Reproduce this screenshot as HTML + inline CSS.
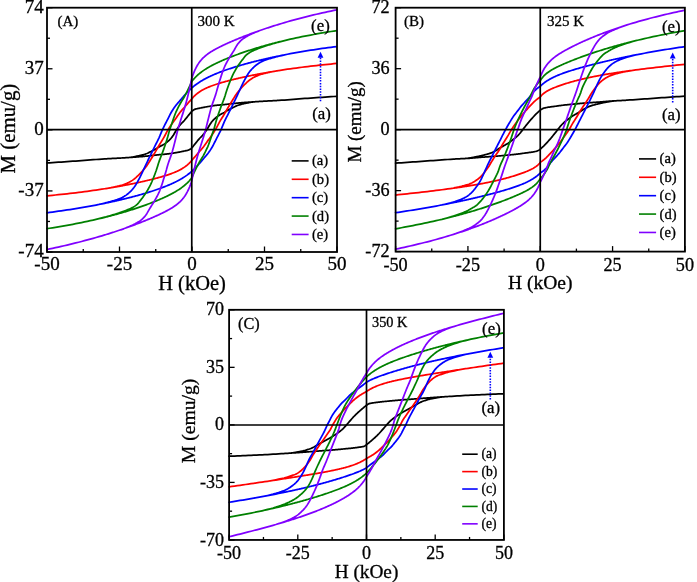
<!DOCTYPE html>
<html><head><meta charset="utf-8"><title>M-H hysteresis loops</title>
<style>
html,body{margin:0;padding:0;background:#fff;}
body{width:697px;height:582px;overflow:hidden;}
svg{display:block;will-change:transform;}
svg text{font-family:"Liberation Serif",serif;fill:#000;stroke:#000;stroke-width:0.3px;}
</style></head><body>
<svg width="697" height="582" viewBox="0 0 697 582">
<rect width="697" height="582" fill="#fff"/>
<g><path d="M336.75 96.31 L333.85 96.50 L330.95 96.69 L328.05 96.89 L325.15 97.09 L322.25 97.28 L319.35 97.48 L316.45 97.68 L313.55 97.88 L310.65 98.08 L307.75 98.29 L304.85 98.49 L301.95 98.71 L299.05 98.93 L296.15 99.15 L293.25 99.37 L290.35 99.59 L287.45 99.80 L284.55 100.01 L281.65 100.21 L278.75 100.40 L278.02 100.45 L277.30 100.49 L276.57 100.54 L275.85 100.58 L275.12 100.62 L274.40 100.66 L273.68 100.70 L272.95 100.74 L272.23 100.78 L271.50 100.82 L270.77 100.85 L270.05 100.89 L269.32 100.92 L268.60 100.96 L267.88 100.99 L267.15 101.03 L266.43 101.07 L265.70 101.10 L264.98 101.14 L264.25 101.18 L263.52 101.22 L262.80 101.26 L262.07 101.30 L261.35 101.34 L260.62 101.39 L259.90 101.43 L259.18 101.47 L258.45 101.52 L257.73 101.57 L257.00 101.61 L256.27 101.66 L255.55 101.71 L254.82 101.75 L254.10 101.80 L253.38 101.85 L252.65 101.90 L251.93 101.95 L251.20 102.00 L250.47 102.05 L249.75 102.10 L249.03 102.16 L248.30 102.21 L247.57 102.26 L246.85 102.32 L246.12 102.38 L245.40 102.43 L244.68 102.49 L243.95 102.55 L243.22 102.61 L242.50 102.67 L241.78 102.73 L241.05 102.79 L240.32 102.86 L239.60 102.92 L238.88 102.99 L238.15 103.06 L237.43 103.13 L236.70 103.20 L235.97 103.27 L235.25 103.34 L234.53 103.42 L233.80 103.49 L233.07 103.57 L232.35 103.65 L231.62 103.73 L230.90 103.81 L230.18 103.90 L229.45 103.99 L228.72 104.07 L228.00 104.16 L227.28 104.25 L226.55 104.33 L225.82 104.42 L225.10 104.50 L224.38 104.57 L223.65 104.65 L222.93 104.72 L222.20 104.78 L221.47 104.85 L220.75 104.91 L220.03 104.97 L219.30 105.03 L218.57 105.10 L217.85 105.17 L217.12 105.24 L216.40 105.32 L215.68 105.40 L214.95 105.49 L214.22 105.59 L213.50 105.69 L212.78 105.80 L212.05 105.91 L211.32 106.02 L210.60 106.14 L209.88 106.26 L209.15 106.38 L208.43 106.51 L207.70 106.63 L206.97 106.76 L206.25 106.88 L205.53 107.01 L204.80 107.14 L204.07 107.28 L203.35 107.41 L202.62 107.55 L201.90 107.70 L201.18 107.84 L200.45 107.99 L199.72 108.14 L199.00 108.29 L198.28 108.45 L197.55 108.60 L196.82 108.75 L196.10 108.93 L195.38 109.13 L194.65 109.40 L193.93 109.75 L193.20 110.17 L192.47 110.69 L191.75 111.33 L191.03 112.22 L190.30 113.12 L189.57 114.01 L188.85 114.91 L188.12 115.80 L187.40 116.70 L186.68 117.61 L185.95 118.51 L185.22 119.39 L184.50 120.24 L183.78 121.04 L183.05 121.79 L182.32 122.52 L181.60 123.26 L180.88 124.03 L180.15 124.86 L179.43 125.77 L178.70 126.74 L177.97 127.75 L177.25 128.80 L176.53 129.87 L175.80 131.01 L175.07 132.24 L174.35 133.49 L173.62 134.72 L172.90 135.87 L172.18 136.89 L171.45 137.78 L170.72 138.61 L170.00 139.38 L169.28 140.10 L168.55 140.77 L167.82 141.41 L167.10 142.02 L166.38 142.59 L165.65 143.13 L164.93 143.64 L164.20 144.13 L163.47 144.58 L162.75 145.01 L162.03 145.40 L161.30 145.77 L160.57 146.14 L159.85 146.51 L159.12 146.90 L158.40 147.32 L157.68 147.76 L156.95 148.22 L156.22 148.67 L155.50 149.12 L154.78 149.54 L154.05 149.94 L153.32 150.33 L152.60 150.70 L151.88 151.06 L151.15 151.42 L150.43 151.77 L149.70 152.13 L148.97 152.50 L148.25 152.86 L147.53 153.20 L146.80 153.52 L146.07 153.80 L145.35 154.06 L144.62 154.29 L143.90 154.51 L143.18 154.72 L142.45 154.92 L141.72 155.11 L141.00 155.29 L140.28 155.47 L139.55 155.64 L138.82 155.80 L138.10 155.95 L137.38 156.09 L136.65 156.23 L135.93 156.37 L135.20 156.51 L134.47 156.66 L133.75 156.79 L133.03 156.93 L132.30 157.05 L131.57 157.17 L130.85 157.28 L130.12 157.38 L129.40 157.47 L128.68 157.54 L127.95 157.59 L127.23 157.64 L126.50 157.69 L125.78 157.73 L125.05 157.78 L124.33 157.83 L123.60 157.87 L122.88 157.91 L122.15 157.96 L121.42 158.00 L120.70 158.04 L119.98 158.08 L119.25 158.12 L118.53 158.16 L117.80 158.20 L117.08 158.23 L116.35 158.27 L115.62 158.31 L114.90 158.34 L114.17 158.38 L113.45 158.41 L112.73 158.45 L112.00 158.48 L111.28 158.52 L110.55 158.56 L109.83 158.60 L109.10 158.64 L108.38 158.68 L107.65 158.72 L106.92 158.76 L106.20 158.81 L105.48 158.85 L104.75 158.90 L101.85 159.09 L98.95 159.29 L96.05 159.50 L93.15 159.71 L90.25 159.93 L87.35 160.15 L84.45 160.37 L81.55 160.59 L78.65 160.81 L75.75 161.01 L72.85 161.22 L69.95 161.42 L67.05 161.62 L64.15 161.82 L61.25 162.02 L58.35 162.21 L55.45 162.41 L52.55 162.61 L49.65 162.80 L47.00 162.99 L47.00 162.99 L49.65 162.80 L52.55 162.61 L55.45 162.41 L58.35 162.21 L61.25 162.02 L64.15 161.82 L67.05 161.62 L69.95 161.42 L72.85 161.22 L75.75 161.01 L78.65 160.81 L81.55 160.59 L84.45 160.37 L87.35 160.15 L90.25 159.93 L93.15 159.71 L96.05 159.50 L98.95 159.29 L101.85 159.09 L104.75 158.90 L105.48 158.85 L106.20 158.81 L106.92 158.76 L107.65 158.72 L108.38 158.68 L109.10 158.64 L109.83 158.60 L110.55 158.56 L111.28 158.52 L112.00 158.48 L112.73 158.45 L113.45 158.41 L114.17 158.38 L114.90 158.34 L115.62 158.31 L116.35 158.27 L117.08 158.23 L117.80 158.20 L118.53 158.16 L119.25 158.12 L119.98 158.08 L120.70 158.04 L121.42 158.00 L122.15 157.96 L122.88 157.91 L123.60 157.87 L124.33 157.83 L125.05 157.78 L125.78 157.73 L126.50 157.69 L127.23 157.64 L127.95 157.59 L128.68 157.55 L129.40 157.50 L130.12 157.45 L130.85 157.40 L131.57 157.35 L132.30 157.30 L133.03 157.25 L133.75 157.20 L134.47 157.14 L135.20 157.09 L135.93 157.04 L136.65 156.98 L137.38 156.92 L138.10 156.87 L138.82 156.81 L139.55 156.75 L140.28 156.69 L141.00 156.63 L141.72 156.57 L142.45 156.51 L143.18 156.44 L143.90 156.38 L144.62 156.31 L145.35 156.24 L146.07 156.17 L146.80 156.10 L147.53 156.03 L148.25 155.96 L148.97 155.88 L149.70 155.81 L150.43 155.73 L151.15 155.65 L151.88 155.57 L152.60 155.49 L153.32 155.40 L154.05 155.31 L154.78 155.23 L155.50 155.14 L156.22 155.05 L156.95 154.97 L157.68 154.88 L158.40 154.80 L159.12 154.73 L159.85 154.65 L160.57 154.58 L161.30 154.52 L162.03 154.45 L162.75 154.39 L163.47 154.33 L164.20 154.27 L164.93 154.20 L165.65 154.13 L166.38 154.06 L167.10 153.98 L167.82 153.90 L168.55 153.81 L169.28 153.71 L170.00 153.61 L170.72 153.50 L171.45 153.39 L172.18 153.28 L172.90 153.16 L173.62 153.04 L174.35 152.92 L175.07 152.79 L175.80 152.67 L176.53 152.54 L177.25 152.42 L177.97 152.29 L178.70 152.16 L179.43 152.02 L180.15 151.89 L180.88 151.75 L181.60 151.60 L182.32 151.46 L183.05 151.31 L183.78 151.16 L184.50 151.01 L185.22 150.85 L185.95 150.70 L186.68 150.55 L187.40 150.37 L188.12 150.17 L188.85 149.90 L189.57 149.55 L190.30 149.13 L191.03 148.61 L191.75 147.97 L192.47 147.08 L193.20 146.18 L193.93 145.29 L194.65 144.39 L195.38 143.50 L196.10 142.60 L196.82 141.69 L197.55 140.79 L198.28 139.91 L199.00 139.06 L199.72 138.26 L200.45 137.51 L201.18 136.78 L201.90 136.04 L202.62 135.27 L203.35 134.44 L204.07 133.53 L204.80 132.56 L205.53 131.55 L206.25 130.50 L206.97 129.43 L207.70 128.29 L208.43 127.06 L209.15 125.81 L209.88 124.58 L210.60 123.43 L211.32 122.41 L212.05 121.52 L212.78 120.69 L213.50 119.92 L214.22 119.20 L214.95 118.53 L215.68 117.89 L216.40 117.28 L217.12 116.71 L217.85 116.17 L218.57 115.66 L219.30 115.17 L220.03 114.72 L220.75 114.29 L221.47 113.90 L222.20 113.53 L222.93 113.16 L223.65 112.79 L224.38 112.40 L225.10 111.98 L225.82 111.54 L226.55 111.08 L227.28 110.63 L228.00 110.18 L228.72 109.76 L229.45 109.36 L230.18 108.97 L230.90 108.60 L231.62 108.24 L232.35 107.88 L233.07 107.53 L233.80 107.17 L234.53 106.80 L235.25 106.44 L235.97 106.10 L236.70 105.78 L237.43 105.50 L238.15 105.24 L238.88 105.01 L239.60 104.79 L240.32 104.58 L241.05 104.38 L241.78 104.19 L242.50 104.01 L243.22 103.83 L243.95 103.66 L244.68 103.50 L245.40 103.35 L246.12 103.21 L246.85 103.07 L247.57 102.93 L248.30 102.79 L249.03 102.64 L249.75 102.51 L250.47 102.37 L251.20 102.25 L251.93 102.13 L252.65 102.02 L253.38 101.92 L254.10 101.83 L254.82 101.76 L255.55 101.71 L256.27 101.66 L257.00 101.61 L257.73 101.57 L258.45 101.52 L259.18 101.47 L259.90 101.43 L260.62 101.39 L261.35 101.34 L262.07 101.30 L262.80 101.26 L263.52 101.22 L264.25 101.18 L264.98 101.14 L265.70 101.10 L266.43 101.07 L267.15 101.03 L267.88 100.99 L268.60 100.96 L269.32 100.92 L270.05 100.89 L270.77 100.85 L271.50 100.82 L272.23 100.78 L272.95 100.74 L273.68 100.70 L274.40 100.66 L275.12 100.62 L275.85 100.58 L276.57 100.54 L277.30 100.49 L278.02 100.45 L278.75 100.40 L281.65 100.21 L284.55 100.01 L287.45 99.80 L290.35 99.59 L293.25 99.37 L296.15 99.15 L299.05 98.93 L301.95 98.71 L304.85 98.49 L307.75 98.29 L310.65 98.08 L313.55 97.88 L316.45 97.68 L319.35 97.48 L322.25 97.28 L325.15 97.09 L328.05 96.89 L330.95 96.69 L333.85 96.50 L336.75 96.31" fill="none" stroke="#000000" stroke-width="1.75" stroke-linejoin="round"/>
<path d="M336.75 63.46 L333.85 63.73 L330.95 64.01 L328.05 64.30 L325.15 64.59 L322.25 64.89 L319.35 65.20 L316.45 65.52 L313.55 65.85 L310.65 66.19 L307.75 66.53 L304.85 66.89 L301.95 67.25 L299.05 67.63 L296.15 68.01 L293.25 68.41 L290.35 68.82 L287.45 69.23 L284.55 69.66 L281.65 70.10 L278.75 70.55 L278.02 70.67 L277.30 70.78 L276.57 70.90 L275.85 71.02 L275.12 71.14 L274.40 71.25 L273.68 71.37 L272.95 71.49 L272.23 71.62 L271.50 71.74 L270.77 71.86 L270.05 71.98 L269.32 72.11 L268.60 72.23 L267.88 72.36 L267.15 72.49 L266.43 72.61 L265.70 72.74 L264.98 72.87 L264.25 73.00 L263.52 73.14 L262.80 73.27 L262.07 73.40 L261.35 73.53 L260.62 73.67 L259.90 73.81 L259.18 73.94 L258.45 74.08 L257.73 74.22 L257.00 74.36 L256.27 74.50 L255.55 74.64 L254.82 74.78 L254.10 74.93 L253.38 75.07 L252.65 75.22 L251.93 75.36 L251.20 75.51 L250.47 75.66 L249.75 75.81 L249.03 75.96 L248.30 76.11 L247.57 76.26 L246.85 76.42 L246.12 76.57 L245.40 76.73 L244.68 76.89 L243.95 77.05 L243.22 77.21 L242.50 77.37 L241.78 77.53 L241.05 77.69 L240.32 77.86 L239.60 78.02 L238.88 78.19 L238.15 78.36 L237.43 78.53 L236.70 78.70 L235.97 78.87 L235.25 79.04 L234.53 79.22 L233.80 79.39 L233.07 79.57 L232.35 79.75 L231.62 79.93 L230.90 80.11 L230.18 80.30 L229.45 80.49 L228.72 80.67 L228.00 80.86 L227.28 81.06 L226.55 81.25 L225.82 81.44 L225.10 81.64 L224.38 81.84 L223.65 82.05 L222.93 82.25 L222.20 82.46 L221.47 82.67 L220.75 82.88 L220.03 83.10 L219.30 83.32 L218.57 83.54 L217.85 83.77 L217.12 84.00 L216.40 84.23 L215.68 84.47 L214.95 84.71 L214.22 84.96 L213.50 85.21 L212.78 85.47 L212.05 85.73 L211.32 86.00 L210.60 86.28 L209.88 86.56 L209.15 86.85 L208.43 87.15 L207.70 87.46 L206.97 87.78 L206.25 88.11 L205.53 88.45 L204.80 88.80 L204.07 89.16 L203.35 89.54 L202.62 89.94 L201.90 90.35 L201.18 90.78 L200.45 91.23 L199.72 91.70 L199.00 92.19 L198.28 92.71 L197.55 93.25 L196.82 93.82 L196.10 94.43 L195.38 95.07 L194.65 95.75 L193.93 96.47 L193.20 97.23 L192.47 98.05 L191.75 98.91 L191.03 99.73 L190.30 100.55 L189.57 101.37 L188.85 102.19 L188.12 103.02 L187.40 103.85 L186.68 104.69 L185.95 105.52 L185.22 106.36 L184.50 107.20 L183.78 108.03 L183.05 108.86 L182.32 109.69 L181.60 110.54 L180.88 111.41 L180.15 112.32 L179.43 113.26 L178.70 114.26 L177.97 115.30 L177.25 116.35 L176.53 117.40 L175.80 118.43 L175.07 119.42 L174.35 120.41 L173.62 121.40 L172.90 122.39 L172.18 123.41 L171.45 124.46 L170.72 125.54 L170.00 126.64 L169.28 127.77 L168.55 128.93 L167.82 130.14 L167.10 131.42 L166.38 132.76 L165.65 134.13 L164.93 135.50 L164.20 136.85 L163.47 138.15 L162.75 139.38 L162.03 140.57 L161.30 141.74 L160.57 142.89 L159.85 144.06 L159.12 145.25 L158.40 146.49 L157.68 147.75 L156.95 149.03 L156.22 150.32 L155.50 151.59 L154.78 152.84 L154.05 154.07 L153.32 155.29 L152.60 156.49 L151.88 157.69 L151.15 158.86 L150.43 160.02 L149.70 161.18 L148.97 162.35 L148.25 163.50 L147.53 164.61 L146.80 165.67 L146.07 166.65 L145.35 167.58 L144.62 168.48 L143.90 169.35 L143.18 170.19 L142.45 171.01 L141.72 171.81 L141.00 172.59 L140.28 173.35 L139.55 174.09 L138.82 174.81 L138.10 175.53 L137.38 176.23 L136.65 176.92 L135.93 177.58 L135.20 178.21 L134.47 178.80 L133.75 179.35 L133.03 179.88 L132.30 180.38 L131.57 180.85 L130.85 181.29 L130.12 181.70 L129.40 182.09 L128.68 182.45 L127.95 182.80 L127.23 183.13 L126.50 183.44 L125.78 183.73 L125.05 184.01 L124.33 184.28 L123.60 184.53 L122.88 184.78 L122.15 185.01 L121.42 185.22 L120.70 185.43 L119.98 185.62 L119.25 185.81 L118.53 186.00 L117.80 186.17 L117.08 186.35 L116.35 186.52 L115.62 186.68 L114.90 186.84 L114.17 187.00 L113.45 187.15 L112.73 187.30 L112.00 187.45 L111.28 187.60 L110.55 187.75 L109.83 187.89 L109.10 188.03 L108.38 188.16 L107.65 188.28 L106.92 188.40 L106.20 188.52 L105.48 188.63 L104.75 188.75 L101.85 189.20 L98.95 189.64 L96.05 190.07 L93.15 190.48 L90.25 190.89 L87.35 191.29 L84.45 191.67 L81.55 192.05 L78.65 192.41 L75.75 192.77 L72.85 193.11 L69.95 193.45 L67.05 193.78 L64.15 194.10 L61.25 194.41 L58.35 194.71 L55.45 195.00 L52.55 195.29 L49.65 195.57 L47.00 195.84 L47.00 195.84 L49.65 195.57 L52.55 195.29 L55.45 195.00 L58.35 194.71 L61.25 194.41 L64.15 194.10 L67.05 193.78 L69.95 193.45 L72.85 193.11 L75.75 192.77 L78.65 192.41 L81.55 192.05 L84.45 191.67 L87.35 191.29 L90.25 190.89 L93.15 190.48 L96.05 190.07 L98.95 189.64 L101.85 189.20 L104.75 188.75 L105.48 188.63 L106.20 188.52 L106.92 188.40 L107.65 188.28 L108.38 188.16 L109.10 188.05 L109.83 187.93 L110.55 187.81 L111.28 187.68 L112.00 187.56 L112.73 187.44 L113.45 187.32 L114.17 187.19 L114.90 187.07 L115.62 186.94 L116.35 186.81 L117.08 186.69 L117.80 186.56 L118.53 186.43 L119.25 186.30 L119.98 186.16 L120.70 186.03 L121.42 185.90 L122.15 185.77 L122.88 185.63 L123.60 185.49 L124.33 185.36 L125.05 185.22 L125.78 185.08 L126.50 184.94 L127.23 184.80 L127.95 184.66 L128.68 184.52 L129.40 184.37 L130.12 184.23 L130.85 184.08 L131.57 183.94 L132.30 183.79 L133.03 183.64 L133.75 183.49 L134.47 183.34 L135.20 183.19 L135.93 183.04 L136.65 182.88 L137.38 182.73 L138.10 182.57 L138.82 182.41 L139.55 182.25 L140.28 182.09 L141.00 181.93 L141.72 181.77 L142.45 181.61 L143.18 181.44 L143.90 181.28 L144.62 181.11 L145.35 180.94 L146.07 180.77 L146.80 180.60 L147.53 180.43 L148.25 180.26 L148.97 180.08 L149.70 179.91 L150.43 179.73 L151.15 179.55 L151.88 179.37 L152.60 179.19 L153.32 179.00 L154.05 178.81 L154.78 178.63 L155.50 178.44 L156.22 178.24 L156.95 178.05 L157.68 177.86 L158.40 177.66 L159.12 177.46 L159.85 177.25 L160.57 177.05 L161.30 176.84 L162.03 176.63 L162.75 176.42 L163.47 176.20 L164.20 175.98 L164.93 175.76 L165.65 175.53 L166.38 175.30 L167.10 175.07 L167.82 174.83 L168.55 174.59 L169.28 174.34 L170.00 174.09 L170.72 173.83 L171.45 173.57 L172.18 173.30 L172.90 173.02 L173.62 172.74 L174.35 172.45 L175.07 172.15 L175.80 171.84 L176.53 171.52 L177.25 171.19 L177.97 170.85 L178.70 170.50 L179.43 170.14 L180.15 169.76 L180.88 169.36 L181.60 168.95 L182.32 168.52 L183.05 168.07 L183.78 167.60 L184.50 167.11 L185.22 166.59 L185.95 166.05 L186.68 165.48 L187.40 164.87 L188.12 164.23 L188.85 163.55 L189.57 162.83 L190.30 162.07 L191.03 161.25 L191.75 160.39 L192.47 159.57 L193.20 158.75 L193.93 157.93 L194.65 157.11 L195.38 156.28 L196.10 155.45 L196.82 154.61 L197.55 153.78 L198.28 152.94 L199.00 152.10 L199.72 151.27 L200.45 150.44 L201.18 149.61 L201.90 148.76 L202.62 147.89 L203.35 146.98 L204.07 146.04 L204.80 145.04 L205.53 144.00 L206.25 142.95 L206.97 141.90 L207.70 140.87 L208.43 139.88 L209.15 138.89 L209.88 137.90 L210.60 136.91 L211.32 135.89 L212.05 134.84 L212.78 133.76 L213.50 132.66 L214.22 131.53 L214.95 130.37 L215.68 129.16 L216.40 127.88 L217.12 126.54 L217.85 125.17 L218.57 123.80 L219.30 122.45 L220.03 121.15 L220.75 119.92 L221.47 118.73 L222.20 117.56 L222.93 116.41 L223.65 115.24 L224.38 114.05 L225.10 112.81 L225.82 111.55 L226.55 110.27 L227.28 108.98 L228.00 107.71 L228.72 106.46 L229.45 105.23 L230.18 104.01 L230.90 102.81 L231.62 101.61 L232.35 100.44 L233.07 99.28 L233.80 98.12 L234.53 96.95 L235.25 95.80 L235.97 94.69 L236.70 93.63 L237.43 92.65 L238.15 91.72 L238.88 90.82 L239.60 89.95 L240.32 89.11 L241.05 88.29 L241.78 87.49 L242.50 86.71 L243.22 85.95 L243.95 85.21 L244.68 84.49 L245.40 83.77 L246.12 83.07 L246.85 82.38 L247.57 81.72 L248.30 81.09 L249.03 80.50 L249.75 79.95 L250.47 79.42 L251.20 78.92 L251.93 78.45 L252.65 78.01 L253.38 77.60 L254.10 77.21 L254.82 76.85 L255.55 76.50 L256.27 76.17 L257.00 75.86 L257.73 75.57 L258.45 75.29 L259.18 75.02 L259.90 74.77 L260.62 74.52 L261.35 74.29 L262.07 74.08 L262.80 73.87 L263.52 73.68 L264.25 73.49 L264.98 73.30 L265.70 73.13 L266.43 72.95 L267.15 72.78 L267.88 72.62 L268.60 72.46 L269.32 72.30 L270.05 72.15 L270.77 72.00 L271.50 71.85 L272.23 71.70 L272.95 71.55 L273.68 71.41 L274.40 71.27 L275.12 71.14 L275.85 71.02 L276.57 70.90 L277.30 70.78 L278.02 70.67 L278.75 70.55 L281.65 70.10 L284.55 69.66 L287.45 69.23 L290.35 68.82 L293.25 68.41 L296.15 68.01 L299.05 67.63 L301.95 67.25 L304.85 66.89 L307.75 66.53 L310.65 66.19 L313.55 65.85 L316.45 65.52 L319.35 65.20 L322.25 64.89 L325.15 64.59 L328.05 64.30 L330.95 64.01 L333.85 63.73 L336.75 63.46" fill="none" stroke="#ff0000" stroke-width="1.75" stroke-linejoin="round"/>
<path d="M336.75 46.53 L333.85 46.91 L330.95 47.29 L328.05 47.68 L325.15 48.08 L322.25 48.49 L319.35 48.91 L316.45 49.34 L313.55 49.78 L310.65 50.23 L307.75 50.69 L304.85 51.16 L301.95 51.65 L299.05 52.15 L296.15 52.66 L293.25 53.18 L290.35 53.71 L287.45 54.26 L284.55 54.82 L281.65 55.40 L278.75 55.99 L278.02 56.14 L277.30 56.29 L276.57 56.44 L275.85 56.59 L275.12 56.75 L274.40 56.90 L273.68 57.06 L272.95 57.21 L272.23 57.37 L271.50 57.53 L270.77 57.69 L270.05 57.85 L269.32 58.01 L268.60 58.17 L267.88 58.33 L267.15 58.50 L266.43 58.66 L265.70 58.83 L264.98 59.00 L264.25 59.17 L263.52 59.34 L262.80 59.51 L262.07 59.68 L261.35 59.85 L260.62 60.03 L259.90 60.20 L259.18 60.38 L258.45 60.55 L257.73 60.73 L257.00 60.91 L256.27 61.09 L255.55 61.28 L254.82 61.46 L254.10 61.64 L253.38 61.83 L252.65 62.02 L251.93 62.20 L251.20 62.39 L250.47 62.59 L249.75 62.78 L249.03 62.97 L248.30 63.17 L247.57 63.36 L246.85 63.56 L246.12 63.76 L245.40 63.96 L244.68 64.16 L243.95 64.36 L243.22 64.57 L242.50 64.78 L241.78 64.98 L241.05 65.19 L240.32 65.40 L239.60 65.62 L238.88 65.83 L238.15 66.05 L237.43 66.27 L236.70 66.49 L235.97 66.71 L235.25 66.93 L234.53 67.16 L233.80 67.38 L233.07 67.61 L232.35 67.84 L231.62 68.08 L230.90 68.31 L230.18 68.55 L229.45 68.79 L228.72 69.03 L228.00 69.27 L227.28 69.52 L226.55 69.77 L225.82 70.02 L225.10 70.28 L224.38 70.53 L223.65 70.79 L222.93 71.06 L222.20 71.32 L221.47 71.59 L220.75 71.86 L220.03 72.14 L219.30 72.42 L218.57 72.70 L217.85 72.99 L217.12 73.28 L216.40 73.57 L215.68 73.87 L214.95 74.18 L214.22 74.48 L213.50 74.79 L212.78 75.11 L212.05 75.43 L211.32 75.76 L210.60 76.09 L209.88 76.43 L209.15 76.78 L208.43 77.13 L207.70 77.49 L206.97 77.85 L206.25 78.23 L205.53 78.61 L204.80 78.99 L204.07 79.39 L203.35 79.80 L202.62 80.21 L201.90 80.64 L201.18 81.07 L200.45 81.52 L199.72 81.97 L199.00 82.44 L198.28 82.92 L197.55 83.42 L196.82 83.92 L196.10 84.45 L195.38 84.98 L194.65 85.54 L193.93 86.11 L193.20 86.70 L192.47 87.31 L191.75 87.94 L191.03 88.61 L190.30 89.31 L189.57 90.01 L188.85 90.74 L188.12 91.48 L187.40 92.23 L186.68 92.99 L185.95 93.76 L185.22 94.54 L184.50 95.34 L183.78 96.14 L183.05 96.96 L182.32 97.82 L181.60 98.69 L180.88 99.57 L180.15 100.43 L179.43 101.27 L178.70 102.10 L177.97 102.93 L177.25 103.77 L176.53 104.64 L175.80 105.55 L175.07 106.51 L174.35 107.51 L173.62 108.56 L172.90 109.66 L172.18 110.80 L171.45 111.99 L170.72 113.26 L170.00 114.63 L169.28 116.07 L168.55 117.55 L167.82 119.03 L167.10 120.47 L166.38 121.87 L165.65 123.27 L164.93 124.66 L164.20 126.08 L163.47 127.53 L162.75 129.03 L162.03 130.62 L161.30 132.34 L160.57 134.12 L159.85 135.90 L159.12 137.58 L158.40 139.14 L157.68 140.63 L156.95 142.08 L156.22 143.50 L155.50 144.92 L154.78 146.36 L154.05 147.83 L153.32 149.30 L152.60 150.78 L151.88 152.26 L151.15 153.74 L150.43 155.24 L149.70 156.73 L148.97 158.24 L148.25 159.75 L147.53 161.26 L146.80 162.78 L146.07 164.29 L145.35 165.82 L144.62 167.37 L143.90 168.93 L143.18 170.50 L142.45 172.07 L141.72 173.61 L141.00 175.13 L140.28 176.62 L139.55 178.06 L138.82 179.44 L138.10 180.76 L137.38 182.06 L136.65 183.33 L135.93 184.55 L135.20 185.71 L134.47 186.77 L133.75 187.74 L133.03 188.65 L132.30 189.49 L131.57 190.29 L130.85 191.05 L130.12 191.76 L129.40 192.43 L128.68 193.09 L127.95 193.71 L127.23 194.31 L126.50 194.86 L125.78 195.37 L125.05 195.84 L124.33 196.29 L123.60 196.72 L122.88 197.13 L122.15 197.51 L121.42 197.86 L120.70 198.18 L119.98 198.49 L119.25 198.79 L118.53 199.07 L117.80 199.34 L117.08 199.60 L116.35 199.84 L115.62 200.07 L114.90 200.30 L114.17 200.52 L113.45 200.73 L112.73 200.94 L112.00 201.15 L111.28 201.36 L110.55 201.56 L109.83 201.76 L109.10 201.96 L108.38 202.15 L107.65 202.34 L106.92 202.53 L106.20 202.71 L105.48 202.90 L104.75 203.08 L101.85 203.77 L98.95 204.44 L96.05 205.04 L93.15 205.59 L90.25 206.12 L87.35 206.64 L84.45 207.15 L81.55 207.65 L78.65 208.14 L75.75 208.61 L72.85 209.07 L69.95 209.52 L67.05 209.96 L64.15 210.39 L61.25 210.81 L58.35 211.22 L55.45 211.62 L52.55 212.01 L49.65 212.39 L47.00 212.77 L47.00 212.77 L49.65 212.39 L52.55 212.01 L55.45 211.62 L58.35 211.22 L61.25 210.81 L64.15 210.39 L67.05 209.96 L69.95 209.52 L72.85 209.07 L75.75 208.61 L78.65 208.14 L81.55 207.65 L84.45 207.15 L87.35 206.64 L90.25 206.12 L93.15 205.59 L96.05 205.04 L98.95 204.48 L101.85 203.90 L104.75 203.31 L105.48 203.16 L106.20 203.01 L106.92 202.86 L107.65 202.71 L108.38 202.55 L109.10 202.40 L109.83 202.24 L110.55 202.09 L111.28 201.93 L112.00 201.77 L112.73 201.61 L113.45 201.45 L114.17 201.29 L114.90 201.13 L115.62 200.97 L116.35 200.80 L117.08 200.64 L117.80 200.47 L118.53 200.30 L119.25 200.13 L119.98 199.96 L120.70 199.79 L121.42 199.62 L122.15 199.45 L122.88 199.27 L123.60 199.10 L124.33 198.92 L125.05 198.75 L125.78 198.57 L126.50 198.39 L127.23 198.21 L127.95 198.02 L128.68 197.84 L129.40 197.66 L130.12 197.47 L130.85 197.28 L131.57 197.10 L132.30 196.91 L133.03 196.71 L133.75 196.52 L134.47 196.33 L135.20 196.13 L135.93 195.94 L136.65 195.74 L137.38 195.54 L138.10 195.34 L138.82 195.14 L139.55 194.94 L140.28 194.73 L141.00 194.52 L141.72 194.32 L142.45 194.11 L143.18 193.90 L143.90 193.68 L144.62 193.47 L145.35 193.25 L146.07 193.03 L146.80 192.81 L147.53 192.59 L148.25 192.37 L148.97 192.14 L149.70 191.92 L150.43 191.69 L151.15 191.46 L151.88 191.22 L152.60 190.99 L153.32 190.75 L154.05 190.51 L154.78 190.27 L155.50 190.03 L156.22 189.78 L156.95 189.53 L157.68 189.28 L158.40 189.02 L159.12 188.77 L159.85 188.51 L160.57 188.24 L161.30 187.98 L162.03 187.71 L162.75 187.44 L163.47 187.16 L164.20 186.88 L164.93 186.60 L165.65 186.31 L166.38 186.02 L167.10 185.73 L167.82 185.43 L168.55 185.12 L169.28 184.82 L170.00 184.51 L170.72 184.19 L171.45 183.87 L172.18 183.54 L172.90 183.21 L173.62 182.87 L174.35 182.52 L175.07 182.17 L175.80 181.81 L176.53 181.45 L177.25 181.07 L177.97 180.69 L178.70 180.31 L179.43 179.91 L180.15 179.50 L180.88 179.09 L181.60 178.66 L182.32 178.23 L183.05 177.78 L183.78 177.33 L184.50 176.86 L185.22 176.38 L185.95 175.88 L186.68 175.38 L187.40 174.85 L188.12 174.32 L188.85 173.76 L189.57 173.19 L190.30 172.60 L191.03 171.99 L191.75 171.36 L192.47 170.69 L193.20 169.99 L193.93 169.29 L194.65 168.56 L195.38 167.82 L196.10 167.07 L196.82 166.31 L197.55 165.54 L198.28 164.76 L199.00 163.96 L199.72 163.16 L200.45 162.34 L201.18 161.48 L201.90 160.61 L202.62 159.73 L203.35 158.87 L204.07 158.03 L204.80 157.20 L205.53 156.37 L206.25 155.53 L206.97 154.66 L207.70 153.75 L208.43 152.79 L209.15 151.79 L209.88 150.74 L210.60 149.64 L211.32 148.50 L212.05 147.31 L212.78 146.04 L213.50 144.67 L214.22 143.23 L214.95 141.75 L215.68 140.27 L216.40 138.83 L217.12 137.43 L217.85 136.03 L218.57 134.64 L219.30 133.22 L220.03 131.77 L220.75 130.27 L221.47 128.68 L222.20 126.96 L222.93 125.18 L223.65 123.40 L224.38 121.72 L225.10 120.16 L225.82 118.67 L226.55 117.22 L227.28 115.80 L228.00 114.38 L228.72 112.94 L229.45 111.47 L230.18 110.00 L230.90 108.52 L231.62 107.04 L232.35 105.56 L233.07 104.06 L233.80 102.57 L234.53 101.06 L235.25 99.55 L235.97 98.04 L236.70 96.52 L237.43 95.01 L238.15 93.48 L238.88 91.93 L239.60 90.37 L240.32 88.80 L241.05 87.23 L241.78 85.69 L242.50 84.17 L243.22 82.68 L243.95 81.24 L244.68 79.86 L245.40 78.54 L246.12 77.24 L246.85 75.97 L247.57 74.75 L248.30 73.59 L249.03 72.53 L249.75 71.56 L250.47 70.65 L251.20 69.81 L251.93 69.01 L252.65 68.25 L253.38 67.54 L254.10 66.87 L254.82 66.21 L255.55 65.59 L256.27 64.99 L257.00 64.44 L257.73 63.93 L258.45 63.46 L259.18 63.01 L259.90 62.58 L260.62 62.17 L261.35 61.79 L262.07 61.44 L262.80 61.12 L263.52 60.81 L264.25 60.51 L264.98 60.23 L265.70 59.96 L266.43 59.70 L267.15 59.46 L267.88 59.23 L268.60 59.00 L269.32 58.78 L270.05 58.57 L270.77 58.36 L271.50 58.15 L272.23 57.94 L272.95 57.74 L273.68 57.54 L274.40 57.34 L275.12 57.15 L275.85 56.96 L276.57 56.77 L277.30 56.59 L278.02 56.40 L278.75 56.22 L281.65 55.53 L284.55 54.86 L287.45 54.26 L290.35 53.71 L293.25 53.18 L296.15 52.66 L299.05 52.15 L301.95 51.65 L304.85 51.16 L307.75 50.69 L310.65 50.23 L313.55 49.78 L316.45 49.34 L319.35 48.91 L322.25 48.49 L325.15 48.08 L328.05 47.68 L330.95 47.29 L333.85 46.91 L336.75 46.53" fill="none" stroke="#0000ff" stroke-width="1.75" stroke-linejoin="round"/>
<path d="M336.75 30.60 L333.85 31.05 L330.95 31.51 L328.05 31.97 L325.15 32.45 L322.25 32.94 L319.35 33.45 L316.45 33.96 L313.55 34.49 L310.65 35.03 L307.75 35.58 L304.85 36.15 L301.95 36.73 L299.05 37.33 L296.15 37.94 L293.25 38.57 L290.35 39.21 L287.45 39.87 L284.55 40.55 L281.65 41.24 L278.75 41.96 L278.02 42.14 L277.30 42.32 L276.57 42.50 L275.85 42.69 L275.12 42.88 L274.40 43.06 L273.68 43.25 L272.95 43.44 L272.23 43.63 L271.50 43.82 L270.77 44.02 L270.05 44.21 L269.32 44.41 L268.60 44.60 L267.88 44.80 L267.15 45.00 L266.43 45.20 L265.70 45.41 L264.98 45.61 L264.25 45.81 L263.52 46.02 L262.80 46.23 L262.07 46.44 L261.35 46.65 L260.62 46.86 L259.90 47.07 L259.18 47.29 L258.45 47.51 L257.73 47.72 L257.00 47.94 L256.27 48.16 L255.55 48.38 L254.82 48.61 L254.10 48.83 L253.38 49.06 L252.65 49.29 L251.93 49.52 L251.20 49.75 L250.47 49.98 L249.75 50.22 L249.03 50.45 L248.30 50.69 L247.57 50.93 L246.85 51.17 L246.12 51.41 L245.40 51.66 L244.68 51.90 L243.95 52.15 L243.22 52.40 L242.50 52.65 L241.78 52.91 L241.05 53.16 L240.32 53.42 L239.60 53.68 L238.88 53.94 L238.15 54.20 L237.43 54.46 L236.70 54.73 L235.97 55.00 L235.25 55.27 L234.53 55.54 L233.80 55.82 L233.07 56.09 L232.35 56.37 L231.62 56.65 L230.90 56.94 L230.18 57.22 L229.45 57.51 L228.72 57.80 L228.00 58.10 L227.28 58.39 L226.55 58.69 L225.82 58.99 L225.10 59.30 L224.38 59.60 L223.65 59.91 L222.93 60.23 L222.20 60.54 L221.47 60.86 L220.75 61.19 L220.03 61.51 L219.30 61.84 L218.57 62.18 L217.85 62.52 L217.12 62.86 L216.40 63.21 L215.68 63.56 L214.95 63.92 L214.22 64.28 L213.50 64.65 L212.78 65.02 L212.05 65.40 L211.32 65.79 L210.60 66.18 L209.88 66.58 L209.15 66.99 L208.43 67.41 L207.70 67.83 L206.97 68.27 L206.25 68.71 L205.53 69.17 L204.80 69.63 L204.07 70.11 L203.35 70.61 L202.62 71.11 L201.90 71.64 L201.18 72.18 L200.45 72.73 L199.72 73.31 L199.00 73.91 L198.28 74.52 L197.55 75.17 L196.82 75.84 L196.10 76.53 L195.38 77.26 L194.65 78.02 L193.93 78.81 L193.20 79.65 L192.47 80.52 L191.75 81.44 L191.03 83.11 L190.30 84.74 L189.57 86.33 L188.85 87.88 L188.12 89.40 L187.40 90.89 L186.68 92.33 L185.95 93.75 L185.22 95.13 L184.50 96.47 L183.78 97.75 L183.05 98.95 L182.32 100.11 L181.60 101.27 L180.88 102.47 L180.15 103.73 L179.43 105.06 L178.70 106.42 L177.97 107.83 L177.25 109.31 L176.53 110.86 L175.80 112.48 L175.07 114.26 L174.35 116.22 L173.62 118.31 L172.90 120.45 L172.18 122.60 L171.45 124.70 L170.72 126.70 L170.00 128.76 L169.28 131.13 L168.55 133.88 L167.82 136.58 L167.10 138.99 L166.38 141.30 L165.65 143.53 L164.93 145.69 L164.20 147.80 L163.47 149.87 L162.75 151.89 L162.03 153.80 L161.30 155.66 L160.57 157.52 L159.85 159.43 L159.12 161.42 L158.40 163.59 L157.68 165.94 L156.95 168.30 L156.22 170.51 L155.50 172.52 L154.78 174.48 L154.05 176.40 L153.32 178.25 L152.60 180.04 L151.88 181.75 L151.15 183.38 L150.43 184.91 L149.70 186.33 L148.97 187.69 L148.25 188.99 L147.53 190.24 L146.80 191.44 L146.07 192.60 L145.35 193.71 L144.62 194.79 L143.90 195.85 L143.18 196.87 L142.45 197.83 L141.72 198.74 L141.00 199.65 L140.28 200.61 L139.55 201.59 L138.82 202.53 L138.10 203.41 L137.38 204.18 L136.65 204.80 L135.93 205.36 L135.20 205.89 L134.47 206.37 L133.75 206.82 L133.03 207.24 L132.30 207.63 L131.57 208.00 L130.85 208.35 L130.12 208.68 L129.40 209.00 L128.68 209.32 L127.95 209.63 L127.23 209.93 L126.50 210.23 L125.78 210.52 L125.05 210.81 L124.33 211.08 L123.60 211.35 L122.88 211.61 L122.15 211.87 L121.42 212.12 L120.70 212.37 L119.98 212.61 L119.25 212.85 L118.53 213.10 L117.80 213.33 L117.08 213.57 L116.35 213.80 L115.62 214.03 L114.90 214.26 L114.17 214.48 L113.45 214.70 L112.73 214.92 L112.00 215.14 L111.28 215.35 L110.55 215.56 L109.83 215.77 L109.10 215.98 L108.38 216.18 L107.65 216.38 L106.92 216.58 L106.20 216.78 L105.48 216.98 L104.75 217.18 L101.85 217.96 L98.95 218.72 L96.05 219.43 L93.15 220.09 L90.25 220.73 L87.35 221.36 L84.45 221.97 L81.55 222.57 L78.65 223.15 L75.75 223.72 L72.85 224.27 L69.95 224.81 L67.05 225.34 L64.15 225.85 L61.25 226.36 L58.35 226.85 L55.45 227.33 L52.55 227.79 L49.65 228.25 L47.00 228.70 L47.00 228.70 L49.65 228.25 L52.55 227.79 L55.45 227.33 L58.35 226.85 L61.25 226.36 L64.15 225.85 L67.05 225.34 L69.95 224.81 L72.85 224.27 L75.75 223.72 L78.65 223.15 L81.55 222.57 L84.45 221.97 L87.35 221.36 L90.25 220.73 L93.15 220.09 L96.05 219.43 L98.95 218.75 L101.85 218.06 L104.75 217.34 L105.48 217.16 L106.20 216.98 L106.92 216.80 L107.65 216.61 L108.38 216.42 L109.10 216.24 L109.83 216.05 L110.55 215.86 L111.28 215.67 L112.00 215.48 L112.73 215.28 L113.45 215.09 L114.17 214.89 L114.90 214.70 L115.62 214.50 L116.35 214.30 L117.08 214.10 L117.80 213.89 L118.53 213.69 L119.25 213.49 L119.98 213.28 L120.70 213.07 L121.42 212.86 L122.15 212.65 L122.88 212.44 L123.60 212.23 L124.33 212.01 L125.05 211.79 L125.78 211.58 L126.50 211.36 L127.23 211.14 L127.95 210.92 L128.68 210.69 L129.40 210.47 L130.12 210.24 L130.85 210.01 L131.57 209.78 L132.30 209.55 L133.03 209.32 L133.75 209.08 L134.47 208.85 L135.20 208.61 L135.93 208.37 L136.65 208.13 L137.38 207.89 L138.10 207.64 L138.82 207.40 L139.55 207.15 L140.28 206.90 L141.00 206.65 L141.72 206.39 L142.45 206.14 L143.18 205.88 L143.90 205.62 L144.62 205.36 L145.35 205.10 L146.07 204.84 L146.80 204.57 L147.53 204.30 L148.25 204.03 L148.97 203.76 L149.70 203.48 L150.43 203.21 L151.15 202.93 L151.88 202.65 L152.60 202.36 L153.32 202.08 L154.05 201.79 L154.78 201.50 L155.50 201.20 L156.22 200.91 L156.95 200.61 L157.68 200.31 L158.40 200.00 L159.12 199.70 L159.85 199.39 L160.57 199.07 L161.30 198.76 L162.03 198.44 L162.75 198.11 L163.47 197.79 L164.20 197.46 L164.93 197.12 L165.65 196.78 L166.38 196.44 L167.10 196.09 L167.82 195.74 L168.55 195.38 L169.28 195.02 L170.00 194.65 L170.72 194.28 L171.45 193.90 L172.18 193.51 L172.90 193.12 L173.62 192.72 L174.35 192.31 L175.07 191.89 L175.80 191.47 L176.53 191.03 L177.25 190.59 L177.97 190.13 L178.70 189.67 L179.43 189.19 L180.15 188.69 L180.88 188.19 L181.60 187.66 L182.32 187.12 L183.05 186.57 L183.78 185.99 L184.50 185.39 L185.22 184.78 L185.95 184.13 L186.68 183.46 L187.40 182.77 L188.12 182.04 L188.85 181.28 L189.57 180.49 L190.30 179.65 L191.03 178.78 L191.75 177.86 L192.47 176.19 L193.20 174.56 L193.93 172.97 L194.65 171.42 L195.38 169.90 L196.10 168.41 L196.82 166.97 L197.55 165.55 L198.28 164.17 L199.00 162.83 L199.72 161.55 L200.45 160.35 L201.18 159.19 L201.90 158.03 L202.62 156.83 L203.35 155.57 L204.07 154.24 L204.80 152.88 L205.53 151.47 L206.25 149.99 L206.97 148.44 L207.70 146.82 L208.43 145.04 L209.15 143.08 L209.88 140.99 L210.60 138.85 L211.32 136.70 L212.05 134.60 L212.78 132.60 L213.50 130.54 L214.22 128.17 L214.95 125.42 L215.68 122.72 L216.40 120.31 L217.12 118.00 L217.85 115.77 L218.57 113.61 L219.30 111.50 L220.03 109.43 L220.75 107.41 L221.47 105.50 L222.20 103.64 L222.93 101.78 L223.65 99.87 L224.38 97.88 L225.10 95.71 L225.82 93.36 L226.55 91.00 L227.28 88.79 L228.00 86.78 L228.72 84.82 L229.45 82.90 L230.18 81.05 L230.90 79.26 L231.62 77.55 L232.35 75.92 L233.07 74.39 L233.80 72.97 L234.53 71.61 L235.25 70.31 L235.97 69.06 L236.70 67.86 L237.43 66.70 L238.15 65.59 L238.88 64.51 L239.60 63.45 L240.32 62.43 L241.05 61.47 L241.78 60.56 L242.50 59.65 L243.22 58.69 L243.95 57.71 L244.68 56.77 L245.40 55.89 L246.12 55.12 L246.85 54.50 L247.57 53.94 L248.30 53.41 L249.03 52.93 L249.75 52.48 L250.47 52.06 L251.20 51.67 L251.93 51.30 L252.65 50.95 L253.38 50.62 L254.10 50.30 L254.82 49.98 L255.55 49.67 L256.27 49.37 L257.00 49.07 L257.73 48.78 L258.45 48.49 L259.18 48.22 L259.90 47.95 L260.62 47.69 L261.35 47.43 L262.07 47.18 L262.80 46.93 L263.52 46.69 L264.25 46.45 L264.98 46.20 L265.70 45.97 L266.43 45.73 L267.15 45.50 L267.88 45.27 L268.60 45.04 L269.32 44.82 L270.05 44.60 L270.77 44.38 L271.50 44.16 L272.23 43.95 L272.95 43.74 L273.68 43.53 L274.40 43.32 L275.12 43.12 L275.85 42.92 L276.57 42.72 L277.30 42.52 L278.02 42.32 L278.75 42.12 L281.65 41.34 L284.55 40.58 L287.45 39.87 L290.35 39.21 L293.25 38.57 L296.15 37.94 L299.05 37.33 L301.95 36.73 L304.85 36.15 L307.75 35.58 L310.65 35.03 L313.55 34.49 L316.45 33.96 L319.35 33.45 L322.25 32.94 L325.15 32.45 L328.05 31.97 L330.95 31.51 L333.85 31.05 L336.75 30.60" fill="none" stroke="#008000" stroke-width="1.75" stroke-linejoin="round"/>
<path d="M336.75 9.82 L333.85 10.42 L330.95 11.02 L328.05 11.64 L325.15 12.27 L322.25 12.92 L319.35 13.57 L316.45 14.25 L313.55 14.93 L310.65 15.63 L307.75 16.34 L304.85 17.07 L301.95 17.82 L299.05 18.58 L296.15 19.35 L293.25 20.14 L290.35 20.95 L287.45 21.77 L284.55 22.61 L281.65 23.47 L278.75 24.35 L278.02 24.57 L277.30 24.79 L276.57 25.02 L275.85 25.24 L275.12 25.47 L274.40 25.70 L273.68 25.93 L272.95 26.16 L272.23 26.39 L271.50 26.62 L270.77 26.85 L270.05 27.09 L269.32 27.32 L268.60 27.56 L267.88 27.80 L267.15 28.04 L266.43 28.28 L265.70 28.52 L264.98 28.76 L264.25 29.01 L263.52 29.26 L262.80 29.50 L262.07 29.75 L261.35 30.00 L260.62 30.25 L259.90 30.50 L259.18 30.76 L258.45 31.01 L257.73 31.27 L257.00 31.53 L256.27 31.79 L255.55 32.05 L254.82 32.31 L254.10 32.57 L253.38 32.83 L252.65 33.10 L251.93 33.37 L251.20 33.64 L250.47 33.91 L249.75 34.18 L249.03 34.45 L248.30 34.72 L247.57 35.00 L246.85 35.28 L246.12 35.55 L245.40 35.83 L244.68 36.12 L243.95 36.40 L243.22 36.68 L242.50 36.97 L241.78 37.26 L241.05 37.55 L240.32 37.84 L239.60 38.13 L238.88 38.42 L238.15 38.72 L237.43 39.02 L236.70 39.32 L235.97 39.62 L235.25 39.92 L234.53 40.22 L233.80 40.53 L233.07 40.84 L232.35 41.15 L231.62 41.46 L230.90 41.78 L230.18 42.09 L229.45 42.41 L228.72 42.73 L228.00 43.05 L227.28 43.38 L226.55 43.71 L225.82 44.04 L225.10 44.37 L224.38 44.71 L223.65 45.05 L222.93 45.39 L222.20 45.74 L221.47 46.09 L220.75 46.44 L220.03 46.80 L219.30 47.17 L218.57 47.53 L217.85 47.91 L217.12 48.29 L216.40 48.67 L215.68 49.06 L214.95 49.46 L214.22 49.87 L213.50 50.29 L212.78 50.71 L212.05 51.15 L211.32 51.60 L210.60 52.06 L209.88 52.53 L209.15 53.02 L208.43 53.52 L207.70 54.05 L206.97 54.59 L206.25 55.16 L205.53 55.75 L204.80 56.38 L204.07 57.03 L203.35 57.71 L202.62 58.44 L201.90 59.21 L201.18 60.02 L200.45 60.89 L199.72 61.82 L199.00 62.81 L198.28 63.87 L197.55 65.02 L196.82 66.25 L196.10 67.59 L195.38 69.04 L194.65 70.61 L193.93 72.33 L193.20 74.20 L192.47 76.24 L191.75 78.48 L191.03 82.02 L190.30 85.44 L189.57 88.73 L188.85 91.89 L188.12 94.92 L187.40 97.81 L186.68 100.55 L185.95 103.18 L185.22 105.72 L184.50 108.19 L183.78 110.58 L183.05 112.88 L182.32 115.12 L181.60 117.34 L180.88 119.59 L180.15 121.89 L179.43 124.22 L178.70 126.59 L177.97 129.12 L177.25 131.96 L176.53 135.06 L175.80 138.01 L175.07 140.94 L174.35 143.85 L173.62 146.68 L172.90 149.40 L172.18 151.94 L171.45 154.27 L170.72 156.40 L170.00 158.42 L169.28 160.41 L168.55 162.47 L167.82 164.67 L167.10 167.17 L166.38 169.88 L165.65 172.38 L164.93 174.81 L164.20 177.23 L163.47 179.61 L162.75 181.93 L162.03 184.18 L161.30 186.34 L160.57 188.38 L159.85 190.29 L159.12 192.05 L158.40 193.64 L157.68 195.13 L156.95 196.53 L156.22 197.85 L155.50 199.13 L154.78 200.38 L154.05 201.62 L153.32 202.84 L152.60 204.00 L151.88 205.14 L151.15 206.27 L150.43 207.41 L149.70 208.58 L148.97 209.83 L148.25 211.13 L147.53 212.42 L146.80 213.65 L146.07 214.76 L145.35 215.71 L144.62 216.59 L143.90 217.42 L143.18 218.19 L142.45 218.91 L141.72 219.55 L141.00 220.13 L140.28 220.65 L139.55 221.15 L138.82 221.62 L138.10 222.07 L137.38 222.50 L136.65 222.92 L135.93 223.33 L135.20 223.74 L134.47 224.12 L133.75 224.50 L133.03 224.86 L132.30 225.20 L131.57 225.53 L130.85 225.85 L130.12 226.17 L129.40 226.47 L128.68 226.77 L127.95 227.07 L127.23 227.36 L126.50 227.65 L125.78 227.94 L125.05 228.23 L124.33 228.51 L123.60 228.78 L122.88 229.04 L122.15 229.30 L121.42 229.55 L120.70 229.80 L119.98 230.04 L119.25 230.29 L118.53 230.54 L117.80 230.78 L117.08 231.02 L116.35 231.26 L115.62 231.50 L114.90 231.74 L114.17 231.98 L113.45 232.21 L112.73 232.45 L112.00 232.68 L111.28 232.91 L110.55 233.14 L109.83 233.37 L109.10 233.60 L108.38 233.83 L107.65 234.06 L106.92 234.28 L106.20 234.51 L105.48 234.73 L104.75 234.95 L101.85 235.83 L98.95 236.69 L96.05 237.53 L93.15 238.35 L90.25 239.16 L87.35 239.95 L84.45 240.72 L81.55 241.48 L78.65 242.23 L75.75 242.96 L72.85 243.67 L69.95 244.37 L67.05 245.05 L64.15 245.73 L61.25 246.38 L58.35 247.03 L55.45 247.66 L52.55 248.28 L49.65 248.88 L47.00 249.48 L47.00 249.48 L49.65 248.88 L52.55 248.28 L55.45 247.66 L58.35 247.03 L61.25 246.38 L64.15 245.73 L67.05 245.05 L69.95 244.37 L72.85 243.67 L75.75 242.96 L78.65 242.23 L81.55 241.48 L84.45 240.72 L87.35 239.95 L90.25 239.16 L93.15 238.35 L96.05 237.53 L98.95 236.69 L101.85 235.83 L104.75 234.95 L105.48 234.73 L106.20 234.51 L106.92 234.28 L107.65 234.06 L108.38 233.83 L109.10 233.60 L109.83 233.37 L110.55 233.14 L111.28 232.91 L112.00 232.68 L112.73 232.45 L113.45 232.21 L114.17 231.98 L114.90 231.74 L115.62 231.50 L116.35 231.26 L117.08 231.02 L117.80 230.78 L118.53 230.54 L119.25 230.29 L119.98 230.04 L120.70 229.80 L121.42 229.55 L122.15 229.30 L122.88 229.05 L123.60 228.80 L124.33 228.54 L125.05 228.29 L125.78 228.03 L126.50 227.77 L127.23 227.51 L127.95 227.25 L128.68 226.99 L129.40 226.73 L130.12 226.47 L130.85 226.20 L131.57 225.93 L132.30 225.66 L133.03 225.39 L133.75 225.12 L134.47 224.85 L135.20 224.58 L135.93 224.30 L136.65 224.02 L137.38 223.75 L138.10 223.47 L138.82 223.18 L139.55 222.90 L140.28 222.62 L141.00 222.33 L141.72 222.04 L142.45 221.75 L143.18 221.46 L143.90 221.17 L144.62 220.88 L145.35 220.58 L146.07 220.28 L146.80 219.98 L147.53 219.68 L148.25 219.38 L148.97 219.08 L149.70 218.77 L150.43 218.46 L151.15 218.15 L151.88 217.84 L152.60 217.52 L153.32 217.21 L154.05 216.89 L154.78 216.57 L155.50 216.25 L156.22 215.92 L156.95 215.59 L157.68 215.26 L158.40 214.93 L159.12 214.59 L159.85 214.25 L160.57 213.91 L161.30 213.56 L162.03 213.21 L162.75 212.86 L163.47 212.50 L164.20 212.13 L164.93 211.77 L165.65 211.39 L166.38 211.01 L167.10 210.63 L167.82 210.24 L168.55 209.84 L169.28 209.43 L170.00 209.01 L170.72 208.59 L171.45 208.15 L172.18 207.70 L172.90 207.24 L173.62 206.77 L174.35 206.28 L175.07 205.78 L175.80 205.25 L176.53 204.71 L177.25 204.14 L177.97 203.55 L178.70 202.92 L179.43 202.27 L180.15 201.59 L180.88 200.86 L181.60 200.09 L182.32 199.28 L183.05 198.41 L183.78 197.48 L184.50 196.49 L185.22 195.43 L185.95 194.28 L186.68 193.05 L187.40 191.71 L188.12 190.26 L188.85 188.69 L189.57 186.97 L190.30 185.10 L191.03 183.06 L191.75 180.82 L192.47 177.28 L193.20 173.86 L193.93 170.57 L194.65 167.41 L195.38 164.38 L196.10 161.49 L196.82 158.75 L197.55 156.12 L198.28 153.58 L199.00 151.11 L199.72 148.72 L200.45 146.42 L201.18 144.18 L201.90 141.96 L202.62 139.71 L203.35 137.41 L204.07 135.08 L204.80 132.71 L205.53 130.18 L206.25 127.34 L206.97 124.24 L207.70 121.29 L208.43 118.36 L209.15 115.45 L209.88 112.62 L210.60 109.90 L211.32 107.36 L212.05 105.03 L212.78 102.90 L213.50 100.88 L214.22 98.89 L214.95 96.83 L215.68 94.63 L216.40 92.13 L217.12 89.42 L217.85 86.92 L218.57 84.49 L219.30 82.07 L220.03 79.69 L220.75 77.37 L221.47 75.12 L222.20 72.96 L222.93 70.92 L223.65 69.01 L224.38 67.25 L225.10 65.66 L225.82 64.17 L226.55 62.77 L227.28 61.45 L228.00 60.17 L228.72 58.92 L229.45 57.68 L230.18 56.46 L230.90 55.30 L231.62 54.16 L232.35 53.03 L233.07 51.89 L233.80 50.72 L234.53 49.47 L235.25 48.17 L235.97 46.88 L236.70 45.65 L237.43 44.54 L238.15 43.59 L238.88 42.71 L239.60 41.88 L240.32 41.11 L241.05 40.39 L241.78 39.75 L242.50 39.17 L243.22 38.65 L243.95 38.15 L244.68 37.68 L245.40 37.23 L246.12 36.80 L246.85 36.38 L247.57 35.97 L248.30 35.56 L249.03 35.18 L249.75 34.80 L250.47 34.44 L251.20 34.10 L251.93 33.77 L252.65 33.45 L253.38 33.13 L254.10 32.83 L254.82 32.53 L255.55 32.23 L256.27 31.94 L257.00 31.65 L257.73 31.36 L258.45 31.07 L259.18 30.79 L259.90 30.52 L260.62 30.26 L261.35 30.00 L262.07 29.75 L262.80 29.50 L263.52 29.26 L264.25 29.01 L264.98 28.76 L265.70 28.52 L266.43 28.28 L267.15 28.04 L267.88 27.80 L268.60 27.56 L269.32 27.32 L270.05 27.09 L270.77 26.85 L271.50 26.62 L272.23 26.39 L272.95 26.16 L273.68 25.93 L274.40 25.70 L275.12 25.47 L275.85 25.24 L276.57 25.02 L277.30 24.79 L278.02 24.57 L278.75 24.35 L281.65 23.47 L284.55 22.61 L287.45 21.77 L290.35 20.95 L293.25 20.14 L296.15 19.35 L299.05 18.58 L301.95 17.82 L304.85 17.07 L307.75 16.34 L310.65 15.63 L313.55 14.93 L316.45 14.25 L319.35 13.57 L322.25 12.92 L325.15 12.27 L328.05 11.64 L330.95 11.02 L333.85 10.42 L336.75 9.82" fill="none" stroke="#8000ff" stroke-width="1.75" stroke-linejoin="round"/>
<line x1="191.75" y1="7.70" x2="191.75" y2="252.00" stroke="#000" stroke-width="1.7"/>
<line x1="47.00" y1="129.65" x2="337.00" y2="129.65" stroke="#000" stroke-width="1.7"/>
<rect x="47.00" y="7.70" width="290.00" height="244.30" fill="none" stroke="#000" stroke-width="1.8"/>
<line x1="47.00" y1="252.00" x2="47.00" y2="246.50" stroke="#000" stroke-width="1.3"/>
<line x1="83.25" y1="252.00" x2="83.25" y2="249.00" stroke="#000" stroke-width="1.3"/>
<line x1="119.50" y1="252.00" x2="119.50" y2="246.50" stroke="#000" stroke-width="1.3"/>
<line x1="155.75" y1="252.00" x2="155.75" y2="249.00" stroke="#000" stroke-width="1.3"/>
<line x1="192.00" y1="252.00" x2="192.00" y2="246.50" stroke="#000" stroke-width="1.3"/>
<line x1="228.25" y1="252.00" x2="228.25" y2="249.00" stroke="#000" stroke-width="1.3"/>
<line x1="264.50" y1="252.00" x2="264.50" y2="246.50" stroke="#000" stroke-width="1.3"/>
<line x1="300.75" y1="252.00" x2="300.75" y2="249.00" stroke="#000" stroke-width="1.3"/>
<line x1="337.00" y1="252.00" x2="337.00" y2="246.50" stroke="#000" stroke-width="1.3"/>
<line x1="47.00" y1="252.00" x2="52.50" y2="252.00" stroke="#000" stroke-width="1.3"/>
<line x1="47.00" y1="221.46" x2="50.00" y2="221.46" stroke="#000" stroke-width="1.3"/>
<line x1="47.00" y1="190.93" x2="52.50" y2="190.93" stroke="#000" stroke-width="1.3"/>
<line x1="47.00" y1="160.39" x2="50.00" y2="160.39" stroke="#000" stroke-width="1.3"/>
<line x1="47.00" y1="129.85" x2="52.50" y2="129.85" stroke="#000" stroke-width="1.3"/>
<line x1="47.00" y1="99.31" x2="50.00" y2="99.31" stroke="#000" stroke-width="1.3"/>
<line x1="47.00" y1="68.77" x2="52.50" y2="68.77" stroke="#000" stroke-width="1.3"/>
<line x1="47.00" y1="38.24" x2="50.00" y2="38.24" stroke="#000" stroke-width="1.3"/>
<line x1="47.00" y1="7.70" x2="52.50" y2="7.70" stroke="#000" stroke-width="1.3"/>
<text x="47.00" y="269.50" text-anchor="middle" font-size="19">-50</text>
<text x="119.50" y="269.50" text-anchor="middle" font-size="19">-25</text>
<text x="192.00" y="269.50" text-anchor="middle" font-size="19">0</text>
<text x="264.50" y="269.50" text-anchor="middle" font-size="19">25</text>
<text x="337.00" y="269.50" text-anchor="middle" font-size="19">50</text>
<text x="43.70" y="257.00" text-anchor="end" font-size="19">-74</text>
<text x="43.70" y="195.93" text-anchor="end" font-size="19">-37</text>
<text x="43.70" y="134.85" text-anchor="end" font-size="19">0</text>
<text x="43.70" y="73.77" text-anchor="end" font-size="19">37</text>
<text x="43.70" y="12.70" text-anchor="end" font-size="19">74</text>
<text x="192.00" y="290.20" text-anchor="middle" font-size="20.5">H (kOe)</text>
<text transform="translate(14.50 128.65) rotate(-90)" text-anchor="middle" font-size="20.9">M (emu/g)</text>
<text x="57.50" y="26.10" font-size="15">(A)</text>
<text x="197.50" y="26.10" font-size="15">300 K</text>
<text x="311.10" y="31.20" font-size="16.8">(e)</text>
<text x="312.20" y="119.00" font-size="16.8">(a)</text>
<line x1="320.50" y1="101.20" x2="320.50" y2="57.20" stroke="#0000ff" stroke-width="1.6" stroke-dasharray="1.5 1.3"/>
<path d="M320.50 51.70 l-2.9 6 l5.8 0 z" fill="#0000ff"/>
<line x1="291.70" y1="160.90" x2="308.60" y2="160.90" stroke="#000000" stroke-width="1.6"/>
<text x="312.00" y="165.40" font-size="14.6">(a)</text>
<line x1="291.70" y1="179.29" x2="308.60" y2="179.29" stroke="#ff0000" stroke-width="1.6"/>
<text x="312.00" y="183.79" font-size="14.6">(b)</text>
<line x1="291.70" y1="197.68" x2="308.60" y2="197.68" stroke="#0000ff" stroke-width="1.6"/>
<text x="312.00" y="202.18" font-size="14.6">(c)</text>
<line x1="291.70" y1="216.07" x2="308.60" y2="216.07" stroke="#008000" stroke-width="1.6"/>
<text x="312.00" y="220.57" font-size="14.6">(d)</text>
<line x1="291.70" y1="234.46" x2="308.60" y2="234.46" stroke="#8000ff" stroke-width="1.6"/>
<text x="312.00" y="238.96" font-size="14.6">(e)</text></g>
<g><path d="M684.90 96.11 L682.01 96.32 L679.11 96.52 L676.22 96.73 L673.33 96.93 L670.43 97.13 L667.54 97.34 L664.65 97.54 L661.76 97.74 L658.86 97.94 L655.97 98.15 L653.08 98.35 L650.18 98.56 L647.29 98.77 L644.40 98.98 L641.50 99.19 L638.61 99.39 L635.72 99.60 L632.83 99.80 L629.93 99.99 L627.04 100.17 L626.32 100.22 L625.59 100.26 L624.87 100.31 L624.15 100.35 L623.42 100.39 L622.70 100.43 L621.98 100.47 L621.25 100.51 L620.53 100.54 L619.81 100.58 L619.08 100.61 L618.36 100.65 L617.64 100.69 L616.91 100.72 L616.19 100.76 L615.47 100.79 L614.74 100.83 L614.02 100.87 L613.30 100.91 L612.58 100.95 L611.85 101.00 L611.13 101.04 L610.41 101.09 L609.68 101.15 L608.96 101.20 L608.24 101.26 L607.51 101.32 L606.79 101.38 L606.07 101.44 L605.34 101.51 L604.62 101.57 L603.90 101.64 L603.17 101.70 L602.45 101.76 L601.73 101.83 L601.00 101.89 L600.28 101.95 L599.56 102.01 L598.83 102.07 L598.11 102.13 L597.39 102.18 L596.66 102.23 L595.94 102.28 L595.22 102.34 L594.49 102.38 L593.77 102.43 L593.05 102.48 L592.32 102.53 L591.60 102.58 L590.88 102.64 L590.15 102.69 L589.43 102.74 L588.71 102.79 L587.98 102.85 L587.26 102.90 L586.54 102.96 L585.81 103.01 L585.09 103.07 L584.37 103.12 L583.64 103.18 L582.92 103.24 L582.20 103.30 L581.48 103.36 L580.75 103.42 L580.03 103.49 L579.31 103.55 L578.58 103.62 L577.86 103.69 L577.14 103.76 L576.41 103.84 L575.69 103.91 L574.97 103.98 L574.24 104.05 L573.52 104.13 L572.80 104.20 L572.07 104.27 L571.35 104.34 L570.63 104.41 L569.90 104.48 L569.18 104.55 L568.46 104.62 L567.73 104.69 L567.01 104.76 L566.29 104.84 L565.56 104.91 L564.84 104.99 L564.12 105.07 L563.39 105.16 L562.67 105.25 L561.95 105.34 L561.22 105.44 L560.50 105.54 L559.78 105.64 L559.05 105.74 L558.33 105.84 L557.61 105.95 L556.88 106.05 L556.16 106.15 L555.44 106.26 L554.72 106.36 L553.99 106.45 L553.27 106.54 L552.55 106.63 L551.82 106.73 L551.10 106.82 L550.38 106.91 L549.65 107.01 L548.93 107.12 L548.21 107.23 L547.48 107.35 L546.76 107.49 L546.04 107.63 L545.31 107.79 L544.59 107.97 L543.87 108.18 L543.14 108.42 L542.42 108.75 L541.70 109.16 L540.97 109.62 L540.25 110.17 L539.53 110.79 L538.80 111.44 L538.08 112.10 L537.36 112.78 L536.63 113.47 L535.91 114.19 L535.19 114.93 L534.46 115.70 L533.74 116.48 L533.02 117.26 L532.29 118.05 L531.57 118.85 L530.85 119.67 L530.12 120.50 L529.40 121.35 L528.68 122.22 L527.95 123.10 L527.23 123.98 L526.51 124.88 L525.78 125.78 L525.06 126.69 L524.34 127.61 L523.62 128.53 L522.89 129.46 L522.17 130.41 L521.45 131.38 L520.72 132.33 L520.00 133.21 L519.28 134.02 L518.55 134.79 L517.83 135.53 L517.11 136.23 L516.38 136.89 L515.66 137.53 L514.94 138.13 L514.21 138.70 L513.49 139.27 L512.77 139.82 L512.04 140.37 L511.32 140.92 L510.60 141.47 L509.87 142.00 L509.15 142.52 L508.43 143.01 L507.70 143.48 L506.98 143.92 L506.26 144.34 L505.53 144.75 L504.81 145.16 L504.09 145.57 L503.36 145.99 L502.64 146.42 L501.92 146.84 L501.19 147.26 L500.47 147.68 L499.75 148.11 L499.02 148.55 L498.30 149.01 L497.58 149.48 L496.86 149.96 L496.13 150.41 L495.41 150.83 L494.69 151.22 L493.96 151.60 L493.24 151.95 L492.52 152.30 L491.79 152.62 L491.07 152.91 L490.35 153.18 L489.62 153.43 L488.90 153.67 L488.18 153.89 L487.45 154.10 L486.73 154.30 L486.01 154.50 L485.28 154.69 L484.56 154.87 L483.84 155.05 L483.11 155.23 L482.39 155.40 L481.67 155.56 L480.94 155.73 L480.22 155.90 L479.50 156.07 L478.77 156.23 L478.05 156.39 L477.33 156.55 L476.60 156.70 L475.88 156.84 L475.16 156.97 L474.43 157.11 L473.71 157.24 L472.99 157.37 L472.26 157.51 L471.54 157.63 L470.82 157.76 L470.09 157.87 L469.37 157.99 L468.65 158.09 L467.93 158.19 L467.20 158.27 L466.48 158.35 L465.76 158.42 L465.03 158.49 L464.31 158.54 L463.59 158.58 L462.86 158.61 L462.14 158.65 L461.42 158.69 L460.69 158.72 L459.97 158.76 L459.25 158.79 L458.52 158.83 L457.80 158.87 L457.08 158.91 L456.35 158.95 L455.63 158.99 L454.91 159.04 L454.18 159.08 L453.46 159.13 L450.57 159.31 L447.67 159.50 L444.78 159.70 L441.89 159.91 L439.00 160.11 L436.10 160.32 L433.21 160.53 L430.32 160.74 L427.42 160.95 L424.53 161.15 L421.64 161.36 L418.74 161.56 L415.85 161.76 L412.96 161.96 L410.07 162.17 L407.17 162.37 L404.28 162.57 L401.39 162.78 L398.49 162.98 L395.60 163.19 L395.60 163.19 L398.49 162.98 L401.39 162.78 L404.28 162.57 L407.17 162.37 L410.07 162.17 L412.96 161.96 L415.85 161.76 L418.74 161.56 L421.64 161.36 L424.53 161.15 L427.42 160.95 L430.32 160.74 L433.21 160.53 L436.10 160.32 L439.00 160.11 L441.89 159.91 L444.78 159.70 L447.67 159.50 L450.57 159.31 L453.46 159.13 L454.18 159.08 L454.91 159.04 L455.63 158.99 L456.35 158.95 L457.08 158.91 L457.80 158.87 L458.52 158.83 L459.25 158.79 L459.97 158.76 L460.69 158.72 L461.42 158.69 L462.14 158.65 L462.86 158.61 L463.59 158.58 L464.31 158.54 L465.03 158.51 L465.76 158.47 L466.48 158.43 L467.20 158.39 L467.93 158.35 L468.65 158.30 L469.37 158.26 L470.09 158.21 L470.82 158.15 L471.54 158.10 L472.26 158.04 L472.99 157.98 L473.71 157.92 L474.43 157.86 L475.16 157.79 L475.88 157.73 L476.60 157.66 L477.33 157.60 L478.05 157.54 L478.77 157.47 L479.50 157.41 L480.22 157.35 L480.94 157.29 L481.67 157.23 L482.39 157.17 L483.11 157.12 L483.84 157.07 L484.56 157.02 L485.28 156.96 L486.01 156.92 L486.73 156.87 L487.45 156.82 L488.18 156.77 L488.90 156.72 L489.62 156.66 L490.35 156.61 L491.07 156.56 L491.79 156.51 L492.52 156.45 L493.24 156.40 L493.96 156.34 L494.69 156.29 L495.41 156.23 L496.13 156.18 L496.86 156.12 L497.58 156.06 L498.30 156.00 L499.02 155.94 L499.75 155.88 L500.47 155.81 L501.19 155.75 L501.92 155.68 L502.64 155.61 L503.36 155.54 L504.09 155.46 L504.81 155.39 L505.53 155.32 L506.26 155.25 L506.98 155.17 L507.70 155.10 L508.43 155.03 L509.15 154.96 L509.87 154.89 L510.60 154.82 L511.32 154.75 L512.04 154.68 L512.77 154.61 L513.49 154.54 L514.21 154.46 L514.94 154.39 L515.66 154.31 L516.38 154.23 L517.11 154.14 L517.83 154.05 L518.55 153.96 L519.28 153.86 L520.00 153.76 L520.72 153.66 L521.45 153.56 L522.17 153.46 L522.89 153.35 L523.62 153.25 L524.34 153.15 L525.06 153.04 L525.78 152.94 L526.51 152.85 L527.23 152.76 L527.95 152.67 L528.68 152.57 L529.40 152.48 L530.12 152.39 L530.85 152.29 L531.57 152.18 L532.29 152.07 L533.02 151.95 L533.74 151.81 L534.46 151.67 L535.19 151.51 L535.91 151.33 L536.63 151.12 L537.36 150.88 L538.08 150.55 L538.80 150.14 L539.53 149.68 L540.25 149.13 L540.97 148.51 L541.70 147.86 L542.42 147.20 L543.14 146.52 L543.87 145.83 L544.59 145.11 L545.31 144.37 L546.04 143.60 L546.76 142.82 L547.48 142.04 L548.21 141.25 L548.93 140.45 L549.65 139.63 L550.38 138.80 L551.10 137.95 L551.82 137.08 L552.55 136.20 L553.27 135.32 L553.99 134.42 L554.72 133.52 L555.44 132.61 L556.16 131.69 L556.88 130.77 L557.61 129.84 L558.33 128.89 L559.05 127.92 L559.78 126.97 L560.50 126.09 L561.22 125.28 L561.95 124.51 L562.67 123.77 L563.39 123.07 L564.12 122.41 L564.84 121.77 L565.56 121.17 L566.29 120.60 L567.01 120.03 L567.73 119.48 L568.46 118.93 L569.18 118.38 L569.90 117.83 L570.63 117.30 L571.35 116.78 L572.07 116.29 L572.80 115.82 L573.52 115.38 L574.24 114.96 L574.97 114.55 L575.69 114.14 L576.41 113.73 L577.14 113.31 L577.86 112.88 L578.58 112.46 L579.31 112.04 L580.03 111.62 L580.75 111.19 L581.48 110.75 L582.20 110.29 L582.92 109.82 L583.64 109.34 L584.37 108.89 L585.09 108.47 L585.81 108.08 L586.54 107.70 L587.26 107.35 L587.98 107.00 L588.71 106.68 L589.43 106.39 L590.15 106.12 L590.88 105.87 L591.60 105.63 L592.32 105.41 L593.05 105.20 L593.77 105.00 L594.49 104.80 L595.22 104.61 L595.94 104.43 L596.66 104.25 L597.39 104.07 L598.11 103.91 L598.83 103.74 L599.56 103.57 L600.28 103.40 L601.00 103.23 L601.73 103.07 L602.45 102.91 L603.17 102.75 L603.90 102.60 L604.62 102.46 L605.34 102.33 L606.07 102.19 L606.79 102.06 L607.51 101.93 L608.24 101.79 L608.96 101.67 L609.68 101.54 L610.41 101.43 L611.13 101.31 L611.85 101.21 L612.58 101.11 L613.30 101.03 L614.02 100.95 L614.74 100.88 L615.47 100.81 L616.19 100.76 L616.91 100.72 L617.64 100.69 L618.36 100.65 L619.08 100.61 L619.81 100.58 L620.53 100.54 L621.25 100.51 L621.98 100.47 L622.70 100.43 L623.42 100.39 L624.15 100.35 L624.87 100.31 L625.59 100.26 L626.32 100.22 L627.04 100.17 L629.93 99.99 L632.83 99.80 L635.72 99.60 L638.61 99.39 L641.50 99.19 L644.40 98.98 L647.29 98.77 L650.18 98.56 L653.08 98.35 L655.97 98.15 L658.86 97.94 L661.76 97.74 L664.65 97.54 L667.54 97.34 L670.43 97.13 L673.33 96.93 L676.22 96.73 L679.11 96.52 L682.01 96.32 L684.90 96.11" fill="none" stroke="#000000" stroke-width="1.75" stroke-linejoin="round"/>
<path d="M684.90 64.28 L682.01 64.58 L679.11 64.89 L676.22 65.20 L673.33 65.51 L670.43 65.82 L667.54 66.14 L664.65 66.46 L661.76 66.79 L658.86 67.11 L655.97 67.45 L653.08 67.78 L650.18 68.13 L647.29 68.47 L644.40 68.83 L641.50 69.19 L638.61 69.55 L635.72 69.93 L632.83 70.31 L629.93 70.70 L627.04 71.10 L626.32 71.20 L625.59 71.30 L624.87 71.40 L624.15 71.51 L623.42 71.61 L622.70 71.72 L621.98 71.82 L621.25 71.93 L620.53 72.03 L619.81 72.14 L619.08 72.25 L618.36 72.36 L617.64 72.47 L616.91 72.58 L616.19 72.69 L615.47 72.80 L614.74 72.91 L614.02 73.03 L613.30 73.14 L612.58 73.26 L611.85 73.37 L611.13 73.49 L610.41 73.61 L609.68 73.73 L608.96 73.85 L608.24 73.97 L607.51 74.09 L606.79 74.21 L606.07 74.34 L605.34 74.46 L604.62 74.59 L603.90 74.71 L603.17 74.84 L602.45 74.97 L601.73 75.10 L601.00 75.23 L600.28 75.36 L599.56 75.50 L598.83 75.63 L598.11 75.77 L597.39 75.91 L596.66 76.05 L595.94 76.19 L595.22 76.33 L594.49 76.47 L593.77 76.62 L593.05 76.76 L592.32 76.91 L591.60 77.06 L590.88 77.21 L590.15 77.36 L589.43 77.51 L588.71 77.67 L587.98 77.83 L587.26 77.98 L586.54 78.14 L585.81 78.31 L585.09 78.47 L584.37 78.64 L583.64 78.80 L582.92 78.97 L582.20 79.14 L581.48 79.31 L580.75 79.49 L580.03 79.67 L579.31 79.85 L578.58 80.03 L577.86 80.21 L577.14 80.39 L576.41 80.58 L575.69 80.77 L574.97 80.96 L574.24 81.16 L573.52 81.35 L572.80 81.55 L572.07 81.75 L571.35 81.96 L570.63 82.16 L569.90 82.37 L569.18 82.59 L568.46 82.80 L567.73 83.02 L567.01 83.24 L566.29 83.46 L565.56 83.69 L564.84 83.92 L564.12 84.15 L563.39 84.38 L562.67 84.62 L561.95 84.86 L561.22 85.11 L560.50 85.36 L559.78 85.61 L559.05 85.87 L558.33 86.13 L557.61 86.40 L556.88 86.67 L556.16 86.95 L555.44 87.23 L554.72 87.51 L553.99 87.81 L553.27 88.11 L552.55 88.41 L551.82 88.73 L551.10 89.06 L550.38 89.39 L549.65 89.74 L548.93 90.10 L548.21 90.48 L547.48 90.87 L546.76 91.29 L546.04 91.73 L545.31 92.20 L544.59 92.71 L543.87 93.26 L543.14 93.85 L542.42 94.51 L541.70 95.24 L540.97 96.05 L540.25 96.96 L539.53 97.43 L538.80 97.94 L538.08 98.47 L537.36 99.02 L536.63 99.60 L535.91 100.20 L535.19 100.82 L534.46 101.45 L533.74 102.14 L533.02 102.86 L532.29 103.60 L531.57 104.37 L530.85 105.14 L530.12 105.90 L529.40 106.67 L528.68 107.45 L527.95 108.24 L527.23 109.04 L526.51 109.85 L525.78 110.67 L525.06 111.49 L524.34 112.32 L523.62 113.16 L522.89 114.02 L522.17 114.89 L521.45 115.78 L520.72 116.70 L520.00 117.63 L519.28 118.59 L518.55 119.56 L517.83 120.54 L517.11 121.53 L516.38 122.52 L515.66 123.51 L514.94 124.52 L514.21 125.54 L513.49 126.59 L512.77 127.65 L512.04 128.75 L511.32 129.88 L510.60 131.09 L509.87 132.36 L509.15 133.65 L508.43 134.92 L507.70 136.13 L506.98 137.29 L506.26 138.44 L505.53 139.58 L504.81 140.72 L504.09 141.88 L503.36 143.07 L502.64 144.29 L501.92 145.53 L501.19 146.77 L500.47 147.99 L499.75 149.18 L499.02 150.31 L498.30 151.40 L497.58 152.46 L496.86 153.50 L496.13 154.55 L495.41 155.63 L494.69 156.74 L493.96 157.88 L493.24 159.03 L492.52 160.19 L491.79 161.36 L491.07 162.54 L490.35 163.75 L489.62 165.00 L488.90 166.19 L488.18 167.25 L487.45 168.30 L486.73 169.32 L486.01 170.32 L485.28 171.30 L484.56 172.24 L483.84 173.15 L483.11 174.02 L482.39 174.86 L481.67 175.65 L480.94 176.40 L480.22 177.10 L479.50 177.76 L478.77 178.38 L478.05 178.97 L477.33 179.53 L476.60 180.05 L475.88 180.55 L475.16 181.03 L474.43 181.49 L473.71 181.92 L472.99 182.33 L472.26 182.70 L471.54 183.04 L470.82 183.36 L470.09 183.66 L469.37 183.95 L468.65 184.22 L467.93 184.47 L467.20 184.71 L466.48 184.93 L465.76 185.14 L465.03 185.35 L464.31 185.55 L463.59 185.74 L462.86 185.93 L462.14 186.13 L461.42 186.31 L460.69 186.50 L459.97 186.67 L459.25 186.84 L458.52 187.00 L457.80 187.16 L457.08 187.31 L456.35 187.45 L455.63 187.59 L454.91 187.73 L454.18 187.86 L453.46 188.00 L450.57 188.49 L447.67 188.95 L444.78 189.37 L441.89 189.75 L439.00 190.11 L436.10 190.47 L433.21 190.83 L430.32 191.17 L427.42 191.52 L424.53 191.85 L421.64 192.19 L418.74 192.51 L415.85 192.84 L412.96 193.16 L410.07 193.48 L407.17 193.79 L404.28 194.10 L401.39 194.41 L398.49 194.72 L395.60 195.02 L395.60 195.02 L398.49 194.72 L401.39 194.41 L404.28 194.10 L407.17 193.79 L410.07 193.48 L412.96 193.16 L415.85 192.84 L418.74 192.51 L421.64 192.19 L424.53 191.85 L427.42 191.52 L430.32 191.17 L433.21 190.83 L436.10 190.47 L439.00 190.11 L441.89 189.75 L444.78 189.37 L447.67 188.99 L450.57 188.60 L453.46 188.20 L454.18 188.10 L454.91 188.00 L455.63 187.90 L456.35 187.79 L457.08 187.69 L457.80 187.58 L458.52 187.48 L459.25 187.37 L459.97 187.27 L460.69 187.16 L461.42 187.05 L462.14 186.94 L462.86 186.83 L463.59 186.72 L464.31 186.61 L465.03 186.50 L465.76 186.39 L466.48 186.27 L467.20 186.16 L467.93 186.04 L468.65 185.93 L469.37 185.81 L470.09 185.69 L470.82 185.57 L471.54 185.45 L472.26 185.33 L472.99 185.21 L473.71 185.09 L474.43 184.96 L475.16 184.84 L475.88 184.71 L476.60 184.59 L477.33 184.46 L478.05 184.33 L478.77 184.20 L479.50 184.07 L480.22 183.94 L480.94 183.80 L481.67 183.67 L482.39 183.53 L483.11 183.39 L483.84 183.25 L484.56 183.11 L485.28 182.97 L486.01 182.83 L486.73 182.68 L487.45 182.54 L488.18 182.39 L488.90 182.24 L489.62 182.09 L490.35 181.94 L491.07 181.79 L491.79 181.63 L492.52 181.47 L493.24 181.32 L493.96 181.16 L494.69 180.99 L495.41 180.83 L496.13 180.66 L496.86 180.50 L497.58 180.33 L498.30 180.16 L499.02 179.99 L499.75 179.81 L500.47 179.63 L501.19 179.45 L501.92 179.27 L502.64 179.09 L503.36 178.91 L504.09 178.72 L504.81 178.53 L505.53 178.34 L506.26 178.14 L506.98 177.95 L507.70 177.75 L508.43 177.55 L509.15 177.34 L509.87 177.14 L510.60 176.93 L511.32 176.71 L512.04 176.50 L512.77 176.28 L513.49 176.06 L514.21 175.84 L514.94 175.61 L515.66 175.38 L516.38 175.15 L517.11 174.92 L517.83 174.68 L518.55 174.44 L519.28 174.19 L520.00 173.94 L520.72 173.69 L521.45 173.43 L522.17 173.17 L522.89 172.90 L523.62 172.63 L524.34 172.35 L525.06 172.07 L525.78 171.79 L526.51 171.49 L527.23 171.19 L527.95 170.89 L528.68 170.57 L529.40 170.24 L530.12 169.91 L530.85 169.56 L531.57 169.20 L532.29 168.82 L533.02 168.43 L533.74 168.01 L534.46 167.57 L535.19 167.10 L535.91 166.59 L536.63 166.04 L537.36 165.45 L538.08 164.79 L538.80 164.06 L539.53 163.25 L540.25 162.34 L540.97 161.87 L541.70 161.36 L542.42 160.83 L543.14 160.28 L543.87 159.70 L544.59 159.10 L545.31 158.48 L546.04 157.85 L546.76 157.16 L547.48 156.44 L548.21 155.70 L548.93 154.93 L549.65 154.16 L550.38 153.40 L551.10 152.63 L551.82 151.85 L552.55 151.06 L553.27 150.26 L553.99 149.45 L554.72 148.63 L555.44 147.81 L556.16 146.98 L556.88 146.14 L557.61 145.28 L558.33 144.41 L559.05 143.52 L559.78 142.60 L560.50 141.67 L561.22 140.71 L561.95 139.74 L562.67 138.76 L563.39 137.77 L564.12 136.78 L564.84 135.79 L565.56 134.78 L566.29 133.76 L567.01 132.71 L567.73 131.65 L568.46 130.55 L569.18 129.42 L569.90 128.21 L570.63 126.94 L571.35 125.65 L572.07 124.38 L572.80 123.17 L573.52 122.01 L574.24 120.86 L574.97 119.72 L575.69 118.58 L576.41 117.42 L577.14 116.23 L577.86 115.01 L578.58 113.77 L579.31 112.53 L580.03 111.31 L580.75 110.12 L581.48 108.99 L582.20 107.90 L582.92 106.84 L583.64 105.80 L584.37 104.75 L585.09 103.67 L585.81 102.56 L586.54 101.42 L587.26 100.27 L587.98 99.11 L588.71 97.94 L589.43 96.76 L590.15 95.55 L590.88 94.30 L591.60 93.11 L592.32 92.05 L593.05 91.00 L593.77 89.98 L594.49 88.98 L595.22 88.00 L595.94 87.06 L596.66 86.15 L597.39 85.28 L598.11 84.44 L598.83 83.65 L599.56 82.90 L600.28 82.20 L601.00 81.54 L601.73 80.92 L602.45 80.33 L603.17 79.77 L603.90 79.25 L604.62 78.75 L605.34 78.27 L606.07 77.81 L606.79 77.38 L607.51 76.97 L608.24 76.60 L608.96 76.26 L609.68 75.94 L610.41 75.64 L611.13 75.35 L611.85 75.08 L612.58 74.83 L613.30 74.59 L614.02 74.37 L614.74 74.16 L615.47 73.95 L616.19 73.75 L616.91 73.56 L617.64 73.37 L618.36 73.17 L619.08 72.99 L619.81 72.80 L620.53 72.63 L621.25 72.46 L621.98 72.30 L622.70 72.14 L623.42 71.99 L624.15 71.85 L624.87 71.71 L625.59 71.57 L626.32 71.44 L627.04 71.30 L629.93 70.81 L632.83 70.35 L635.72 69.93 L638.61 69.55 L641.50 69.19 L644.40 68.83 L647.29 68.47 L650.18 68.13 L653.08 67.78 L655.97 67.45 L658.86 67.11 L661.76 66.79 L664.65 66.46 L667.54 66.14 L670.43 65.82 L673.33 65.51 L676.22 65.20 L679.11 64.89 L682.01 64.58 L684.90 64.28" fill="none" stroke="#ff0000" stroke-width="1.75" stroke-linejoin="round"/>
<path d="M684.90 46.59 L682.01 47.02 L679.11 47.45 L676.22 47.89 L673.33 48.33 L670.43 48.79 L667.54 49.25 L664.65 49.72 L661.76 50.20 L658.86 50.69 L655.97 51.19 L653.08 51.69 L650.18 52.20 L647.29 52.73 L644.40 53.26 L641.50 53.80 L638.61 54.35 L635.72 54.91 L632.83 55.48 L629.93 56.06 L627.04 56.65 L626.32 56.80 L625.59 56.95 L624.87 57.10 L624.15 57.25 L623.42 57.40 L622.70 57.55 L621.98 57.71 L621.25 57.86 L620.53 58.01 L619.81 58.17 L619.08 58.32 L618.36 58.48 L617.64 58.64 L616.91 58.80 L616.19 58.95 L615.47 59.11 L614.74 59.27 L614.02 59.43 L613.30 59.60 L612.58 59.76 L611.85 59.92 L611.13 60.08 L610.41 60.25 L609.68 60.41 L608.96 60.58 L608.24 60.75 L607.51 60.91 L606.79 61.08 L606.07 61.25 L605.34 61.42 L604.62 61.59 L603.90 61.76 L603.17 61.93 L602.45 62.11 L601.73 62.28 L601.00 62.45 L600.28 62.63 L599.56 62.80 L598.83 62.98 L598.11 63.16 L597.39 63.34 L596.66 63.52 L595.94 63.70 L595.22 63.88 L594.49 64.06 L593.77 64.24 L593.05 64.43 L592.32 64.61 L591.60 64.80 L590.88 64.98 L590.15 65.17 L589.43 65.36 L588.71 65.55 L587.98 65.74 L587.26 65.93 L586.54 66.13 L585.81 66.32 L585.09 66.52 L584.37 66.71 L583.64 66.91 L582.92 67.11 L582.20 67.31 L581.48 67.51 L580.75 67.71 L580.03 67.92 L579.31 68.12 L578.58 68.33 L577.86 68.54 L577.14 68.75 L576.41 68.96 L575.69 69.18 L574.97 69.39 L574.24 69.61 L573.52 69.83 L572.80 70.05 L572.07 70.27 L571.35 70.50 L570.63 70.73 L569.90 70.96 L569.18 71.19 L568.46 71.43 L567.73 71.67 L567.01 71.91 L566.29 72.15 L565.56 72.40 L564.84 72.65 L564.12 72.91 L563.39 73.17 L562.67 73.43 L561.95 73.70 L561.22 73.97 L560.50 74.25 L559.78 74.53 L559.05 74.82 L558.33 75.11 L557.61 75.41 L556.88 75.72 L556.16 76.03 L555.44 76.35 L554.72 76.69 L553.99 77.02 L553.27 77.37 L552.55 77.73 L551.82 78.10 L551.10 78.48 L550.38 78.87 L549.65 79.28 L548.93 79.70 L548.21 80.13 L547.48 80.58 L546.76 81.05 L546.04 81.54 L545.31 82.04 L544.59 82.57 L543.87 83.12 L543.14 83.69 L542.42 84.29 L541.70 84.92 L540.97 85.58 L540.25 86.27 L539.53 86.72 L538.80 87.21 L538.08 87.74 L537.36 88.32 L536.63 88.94 L535.91 89.58 L535.19 90.26 L534.46 90.96 L533.74 91.69 L533.02 92.50 L532.29 93.40 L531.57 94.34 L530.85 95.30 L530.12 96.25 L529.40 97.13 L528.68 97.96 L527.95 98.78 L527.23 99.58 L526.51 100.38 L525.78 101.17 L525.06 101.96 L524.34 102.73 L523.62 103.50 L522.89 104.29 L522.17 105.10 L521.45 105.94 L520.72 106.83 L520.00 107.75 L519.28 108.70 L518.55 109.66 L517.83 110.62 L517.11 111.56 L516.38 112.49 L515.66 113.42 L514.94 114.36 L514.21 115.32 L513.49 116.32 L512.77 117.38 L512.04 118.49 L511.32 119.66 L510.60 120.86 L509.87 122.08 L509.15 123.31 L508.43 124.53 L507.70 125.78 L506.98 127.04 L506.26 128.33 L505.53 129.65 L504.81 131.00 L504.09 132.38 L503.36 133.78 L502.64 135.21 L501.92 136.64 L501.19 138.08 L500.47 139.52 L499.75 140.94 L499.02 142.35 L498.30 143.76 L497.58 145.17 L496.86 146.58 L496.13 147.99 L495.41 149.41 L494.69 150.83 L493.96 152.26 L493.24 153.69 L492.52 155.12 L491.79 156.57 L491.07 158.03 L490.35 159.50 L489.62 160.98 L488.90 162.47 L488.18 163.98 L487.45 165.49 L486.73 167.02 L486.01 168.60 L485.28 170.23 L484.56 171.88 L483.84 173.52 L483.11 175.15 L482.39 176.73 L481.67 178.24 L480.94 179.66 L480.22 180.97 L479.50 182.20 L478.77 183.36 L478.05 184.48 L477.33 185.54 L476.60 186.56 L475.88 187.54 L475.16 188.49 L474.43 189.41 L473.71 190.29 L472.99 191.12 L472.26 191.89 L471.54 192.61 L470.82 193.30 L470.09 193.95 L469.37 194.57 L468.65 195.15 L467.93 195.68 L467.20 196.17 L466.48 196.63 L465.76 197.06 L465.03 197.47 L464.31 197.86 L463.59 198.22 L462.86 198.57 L462.14 198.90 L461.42 199.22 L460.69 199.53 L459.97 199.82 L459.25 200.10 L458.52 200.38 L457.80 200.65 L457.08 200.91 L456.35 201.17 L455.63 201.41 L454.91 201.65 L454.18 201.87 L453.46 202.08 L450.57 202.89 L447.67 203.61 L444.78 204.31 L441.89 204.95 L439.00 205.50 L436.10 206.04 L433.21 206.57 L430.32 207.10 L427.42 207.61 L424.53 208.11 L421.64 208.61 L418.74 209.10 L415.85 209.58 L412.96 210.05 L410.07 210.51 L407.17 210.97 L404.28 211.41 L401.39 211.85 L398.49 212.28 L395.60 212.71 L395.60 212.71 L398.49 212.28 L401.39 211.85 L404.28 211.41 L407.17 210.97 L410.07 210.51 L412.96 210.05 L415.85 209.58 L418.74 209.10 L421.64 208.61 L424.53 208.11 L427.42 207.61 L430.32 207.10 L433.21 206.57 L436.10 206.04 L439.00 205.50 L441.89 204.95 L444.78 204.39 L447.67 203.82 L450.57 203.24 L453.46 202.65 L454.18 202.50 L454.91 202.35 L455.63 202.20 L456.35 202.05 L457.08 201.90 L457.80 201.75 L458.52 201.59 L459.25 201.44 L459.97 201.29 L460.69 201.13 L461.42 200.98 L462.14 200.82 L462.86 200.66 L463.59 200.50 L464.31 200.35 L465.03 200.19 L465.76 200.03 L466.48 199.87 L467.20 199.70 L467.93 199.54 L468.65 199.38 L469.37 199.22 L470.09 199.05 L470.82 198.89 L471.54 198.72 L472.26 198.55 L472.99 198.39 L473.71 198.22 L474.43 198.05 L475.16 197.88 L475.88 197.71 L476.60 197.54 L477.33 197.37 L478.05 197.19 L478.77 197.02 L479.50 196.85 L480.22 196.67 L480.94 196.50 L481.67 196.32 L482.39 196.14 L483.11 195.96 L483.84 195.78 L484.56 195.60 L485.28 195.42 L486.01 195.24 L486.73 195.06 L487.45 194.87 L488.18 194.69 L488.90 194.50 L489.62 194.32 L490.35 194.13 L491.07 193.94 L491.79 193.75 L492.52 193.56 L493.24 193.37 L493.96 193.17 L494.69 192.98 L495.41 192.78 L496.13 192.59 L496.86 192.39 L497.58 192.19 L498.30 191.99 L499.02 191.79 L499.75 191.59 L500.47 191.38 L501.19 191.18 L501.92 190.97 L502.64 190.76 L503.36 190.55 L504.09 190.34 L504.81 190.12 L505.53 189.91 L506.26 189.69 L506.98 189.47 L507.70 189.25 L508.43 189.03 L509.15 188.80 L509.87 188.57 L510.60 188.34 L511.32 188.11 L512.04 187.87 L512.77 187.63 L513.49 187.39 L514.21 187.15 L514.94 186.90 L515.66 186.65 L516.38 186.39 L517.11 186.13 L517.83 185.87 L518.55 185.60 L519.28 185.33 L520.00 185.05 L520.72 184.77 L521.45 184.48 L522.17 184.19 L522.89 183.89 L523.62 183.58 L524.34 183.27 L525.06 182.95 L525.78 182.61 L526.51 182.28 L527.23 181.93 L527.95 181.57 L528.68 181.20 L529.40 180.82 L530.12 180.43 L530.85 180.02 L531.57 179.60 L532.29 179.17 L533.02 178.72 L533.74 178.25 L534.46 177.76 L535.19 177.26 L535.91 176.73 L536.63 176.18 L537.36 175.61 L538.08 175.01 L538.80 174.38 L539.53 173.72 L540.25 173.03 L540.97 172.58 L541.70 172.09 L542.42 171.56 L543.14 170.98 L543.87 170.36 L544.59 169.72 L545.31 169.04 L546.04 168.34 L546.76 167.61 L547.48 166.80 L548.21 165.90 L548.93 164.96 L549.65 164.00 L550.38 163.05 L551.10 162.17 L551.82 161.34 L552.55 160.52 L553.27 159.72 L553.99 158.92 L554.72 158.13 L555.44 157.34 L556.16 156.57 L556.88 155.80 L557.61 155.01 L558.33 154.20 L559.05 153.36 L559.78 152.47 L560.50 151.55 L561.22 150.60 L561.95 149.64 L562.67 148.68 L563.39 147.74 L564.12 146.81 L564.84 145.88 L565.56 144.94 L566.29 143.98 L567.01 142.98 L567.73 141.92 L568.46 140.81 L569.18 139.64 L569.90 138.44 L570.63 137.22 L571.35 135.99 L572.07 134.77 L572.80 133.52 L573.52 132.26 L574.24 130.97 L574.97 129.65 L575.69 128.30 L576.41 126.92 L577.14 125.52 L577.86 124.09 L578.58 122.66 L579.31 121.22 L580.03 119.78 L580.75 118.36 L581.48 116.95 L582.20 115.54 L582.92 114.13 L583.64 112.72 L584.37 111.31 L585.09 109.89 L585.81 108.47 L586.54 107.04 L587.26 105.61 L587.98 104.18 L588.71 102.73 L589.43 101.27 L590.15 99.80 L590.88 98.32 L591.60 96.83 L592.32 95.32 L593.05 93.81 L593.77 92.28 L594.49 90.70 L595.22 89.07 L595.94 87.42 L596.66 85.78 L597.39 84.15 L598.11 82.57 L598.83 81.06 L599.56 79.64 L600.28 78.33 L601.00 77.10 L601.73 75.94 L602.45 74.82 L603.17 73.76 L603.90 72.74 L604.62 71.76 L605.34 70.81 L606.07 69.89 L606.79 69.01 L607.51 68.18 L608.24 67.41 L608.96 66.69 L609.68 66.00 L610.41 65.35 L611.13 64.73 L611.85 64.15 L612.58 63.62 L613.30 63.13 L614.02 62.67 L614.74 62.24 L615.47 61.83 L616.19 61.44 L616.91 61.08 L617.64 60.73 L618.36 60.40 L619.08 60.08 L619.81 59.77 L620.53 59.48 L621.25 59.20 L621.98 58.92 L622.70 58.65 L623.42 58.39 L624.15 58.13 L624.87 57.89 L625.59 57.65 L626.32 57.43 L627.04 57.22 L629.93 56.41 L632.83 55.69 L635.72 54.99 L638.61 54.35 L641.50 53.80 L644.40 53.26 L647.29 52.73 L650.18 52.20 L653.08 51.69 L655.97 51.19 L658.86 50.69 L661.76 50.20 L664.65 49.72 L667.54 49.25 L670.43 48.79 L673.33 48.33 L676.22 47.89 L679.11 47.45 L682.01 47.02 L684.90 46.59" fill="none" stroke="#0000ff" stroke-width="1.75" stroke-linejoin="round"/>
<path d="M684.90 30.52 L682.01 31.03 L679.11 31.56 L676.22 32.09 L673.33 32.63 L670.43 33.19 L667.54 33.75 L664.65 34.32 L661.76 34.90 L658.86 35.50 L655.97 36.11 L653.08 36.72 L650.18 37.35 L647.29 38.00 L644.40 38.65 L641.50 39.32 L638.61 40.00 L635.72 40.70 L632.83 41.41 L629.93 42.13 L627.04 42.87 L626.32 43.06 L625.59 43.25 L624.87 43.44 L624.15 43.63 L623.42 43.82 L622.70 44.01 L621.98 44.20 L621.25 44.40 L620.53 44.59 L619.81 44.79 L619.08 44.99 L618.36 45.19 L617.64 45.39 L616.91 45.59 L616.19 45.79 L615.47 45.99 L614.74 46.20 L614.02 46.40 L613.30 46.61 L612.58 46.81 L611.85 47.02 L611.13 47.23 L610.41 47.44 L609.68 47.66 L608.96 47.87 L608.24 48.08 L607.51 48.30 L606.79 48.51 L606.07 48.73 L605.34 48.95 L604.62 49.17 L603.90 49.39 L603.17 49.62 L602.45 49.84 L601.73 50.07 L601.00 50.29 L600.28 50.52 L599.56 50.75 L598.83 50.98 L598.11 51.21 L597.39 51.44 L596.66 51.68 L595.94 51.91 L595.22 52.15 L594.49 52.39 L593.77 52.63 L593.05 52.87 L592.32 53.11 L591.60 53.36 L590.88 53.60 L590.15 53.85 L589.43 54.10 L588.71 54.35 L587.98 54.60 L587.26 54.85 L586.54 55.10 L585.81 55.36 L585.09 55.62 L584.37 55.88 L583.64 56.14 L582.92 56.40 L582.20 56.66 L581.48 56.93 L580.75 57.19 L580.03 57.46 L579.31 57.73 L578.58 58.00 L577.86 58.27 L577.14 58.55 L576.41 58.82 L575.69 59.10 L574.97 59.38 L574.24 59.66 L573.52 59.95 L572.80 60.23 L572.07 60.52 L571.35 60.81 L570.63 61.10 L569.90 61.39 L569.18 61.69 L568.46 61.98 L567.73 62.28 L567.01 62.59 L566.29 62.89 L565.56 63.20 L564.84 63.51 L564.12 63.82 L563.39 64.13 L562.67 64.45 L561.95 64.77 L561.22 65.10 L560.50 65.43 L559.78 65.76 L559.05 66.10 L558.33 66.44 L557.61 66.79 L556.88 67.14 L556.16 67.50 L555.44 67.87 L554.72 68.25 L553.99 68.63 L553.27 69.03 L552.55 69.43 L551.82 69.85 L551.10 70.28 L550.38 70.73 L549.65 71.20 L548.93 71.68 L548.21 72.19 L547.48 72.73 L546.76 73.29 L546.04 73.89 L545.31 74.53 L544.59 75.22 L543.87 75.95 L543.14 76.75 L542.42 77.61 L541.70 78.54 L540.97 79.57 L540.25 80.70 L539.53 81.36 L538.80 82.12 L538.08 82.96 L537.36 83.87 L536.63 84.84 L535.91 85.87 L535.19 86.95 L534.46 88.08 L533.74 89.24 L533.02 90.56 L532.29 92.04 L531.57 93.59 L530.85 95.15 L530.12 96.63 L529.40 97.98 L528.68 99.26 L527.95 100.52 L527.23 101.77 L526.51 103.04 L525.78 104.35 L525.06 105.67 L524.34 107.02 L523.62 108.38 L522.89 109.77 L522.17 111.18 L521.45 112.61 L520.72 114.07 L520.00 115.56 L519.28 117.08 L518.55 118.64 L517.83 120.23 L517.11 121.86 L516.38 123.50 L515.66 125.20 L514.94 126.97 L514.21 128.85 L513.49 130.96 L512.77 133.35 L512.04 135.60 L511.32 137.74 L510.60 139.83 L509.87 141.87 L509.15 143.86 L508.43 145.82 L507.70 147.73 L506.98 149.60 L506.26 151.43 L505.53 153.23 L504.81 154.99 L504.09 156.74 L503.36 158.44 L502.64 160.04 L501.92 161.60 L501.19 163.18 L500.47 164.87 L499.75 166.72 L499.02 168.99 L498.30 171.15 L497.58 172.89 L496.86 174.47 L496.13 175.95 L495.41 177.37 L494.69 178.77 L493.96 180.19 L493.24 181.62 L492.52 183.05 L491.79 184.47 L491.07 185.86 L490.35 187.22 L489.62 188.53 L488.90 189.80 L488.18 191.01 L487.45 192.15 L486.73 193.25 L486.01 194.31 L485.28 195.33 L484.56 196.32 L483.84 197.28 L483.11 198.21 L482.39 199.11 L481.67 199.99 L480.94 200.82 L480.22 201.61 L479.50 202.38 L478.77 203.15 L478.05 203.89 L477.33 204.59 L476.60 205.23 L475.88 205.78 L475.16 206.28 L474.43 206.74 L473.71 207.17 L472.99 207.59 L472.26 208.00 L471.54 208.43 L470.82 208.85 L470.09 209.28 L469.37 209.70 L468.65 210.11 L467.93 210.50 L467.20 210.86 L466.48 211.20 L465.76 211.53 L465.03 211.85 L464.31 212.16 L463.59 212.46 L462.86 212.75 L462.14 213.03 L461.42 213.30 L460.69 213.57 L459.97 213.83 L459.25 214.09 L458.52 214.35 L457.80 214.60 L457.08 214.86 L456.35 215.11 L455.63 215.35 L454.91 215.59 L454.18 215.83 L453.46 216.06 L450.57 216.96 L447.67 217.77 L444.78 218.55 L441.89 219.30 L439.00 219.98 L436.10 220.65 L433.21 221.30 L430.32 221.95 L427.42 222.58 L424.53 223.19 L421.64 223.80 L418.74 224.40 L415.85 224.98 L412.96 225.55 L410.07 226.11 L407.17 226.67 L404.28 227.21 L401.39 227.74 L398.49 228.27 L395.60 228.78 L395.60 228.78 L398.49 228.27 L401.39 227.74 L404.28 227.21 L407.17 226.67 L410.07 226.11 L412.96 225.55 L415.85 224.98 L418.74 224.40 L421.64 223.80 L424.53 223.19 L427.42 222.58 L430.32 221.95 L433.21 221.30 L436.10 220.65 L439.00 219.98 L441.89 219.30 L444.78 218.60 L447.67 217.89 L450.57 217.17 L453.46 216.43 L454.18 216.24 L454.91 216.05 L455.63 215.86 L456.35 215.67 L457.08 215.48 L457.80 215.29 L458.52 215.10 L459.25 214.90 L459.97 214.71 L460.69 214.51 L461.42 214.31 L462.14 214.11 L462.86 213.91 L463.59 213.71 L464.31 213.51 L465.03 213.31 L465.76 213.10 L466.48 212.90 L467.20 212.69 L467.93 212.49 L468.65 212.28 L469.37 212.07 L470.09 211.86 L470.82 211.64 L471.54 211.43 L472.26 211.22 L472.99 211.00 L473.71 210.79 L474.43 210.57 L475.16 210.35 L475.88 210.13 L476.60 209.91 L477.33 209.68 L478.05 209.46 L478.77 209.23 L479.50 209.01 L480.22 208.78 L480.94 208.55 L481.67 208.32 L482.39 208.09 L483.11 207.86 L483.84 207.62 L484.56 207.39 L485.28 207.15 L486.01 206.91 L486.73 206.67 L487.45 206.43 L488.18 206.19 L488.90 205.94 L489.62 205.70 L490.35 205.45 L491.07 205.20 L491.79 204.95 L492.52 204.70 L493.24 204.45 L493.96 204.20 L494.69 203.94 L495.41 203.68 L496.13 203.42 L496.86 203.16 L497.58 202.90 L498.30 202.64 L499.02 202.37 L499.75 202.11 L500.47 201.84 L501.19 201.57 L501.92 201.30 L502.64 201.03 L503.36 200.75 L504.09 200.48 L504.81 200.20 L505.53 199.92 L506.26 199.64 L506.98 199.35 L507.70 199.07 L508.43 198.78 L509.15 198.49 L509.87 198.20 L510.60 197.91 L511.32 197.61 L512.04 197.32 L512.77 197.02 L513.49 196.71 L514.21 196.41 L514.94 196.10 L515.66 195.79 L516.38 195.48 L517.11 195.17 L517.83 194.85 L518.55 194.53 L519.28 194.20 L520.00 193.87 L520.72 193.54 L521.45 193.20 L522.17 192.86 L522.89 192.51 L523.62 192.16 L524.34 191.80 L525.06 191.43 L525.78 191.05 L526.51 190.67 L527.23 190.27 L527.95 189.87 L528.68 189.45 L529.40 189.02 L530.12 188.57 L530.85 188.10 L531.57 187.62 L532.29 187.11 L533.02 186.57 L533.74 186.01 L534.46 185.41 L535.19 184.77 L535.91 184.08 L536.63 183.35 L537.36 182.55 L538.08 181.69 L538.80 180.76 L539.53 179.73 L540.25 178.60 L540.97 177.94 L541.70 177.18 L542.42 176.34 L543.14 175.43 L543.87 174.46 L544.59 173.43 L545.31 172.35 L546.04 171.22 L546.76 170.06 L547.48 168.74 L548.21 167.26 L548.93 165.71 L549.65 164.15 L550.38 162.67 L551.10 161.32 L551.82 160.04 L552.55 158.78 L553.27 157.53 L553.99 156.26 L554.72 154.95 L555.44 153.63 L556.16 152.28 L556.88 150.92 L557.61 149.53 L558.33 148.12 L559.05 146.69 L559.78 145.23 L560.50 143.74 L561.22 142.22 L561.95 140.66 L562.67 139.07 L563.39 137.44 L564.12 135.80 L564.84 134.10 L565.56 132.33 L566.29 130.45 L567.01 128.34 L567.73 125.95 L568.46 123.70 L569.18 121.56 L569.90 119.47 L570.63 117.43 L571.35 115.44 L572.07 113.48 L572.80 111.57 L573.52 109.70 L574.24 107.87 L574.97 106.07 L575.69 104.31 L576.41 102.56 L577.14 100.86 L577.86 99.26 L578.58 97.70 L579.31 96.12 L580.03 94.43 L580.75 92.58 L581.48 90.31 L582.20 88.15 L582.92 86.41 L583.64 84.83 L584.37 83.35 L585.09 81.93 L585.81 80.53 L586.54 79.11 L587.26 77.68 L587.98 76.25 L588.71 74.83 L589.43 73.44 L590.15 72.08 L590.88 70.77 L591.60 69.50 L592.32 68.29 L593.05 67.15 L593.77 66.05 L594.49 64.99 L595.22 63.97 L595.94 62.98 L596.66 62.02 L597.39 61.09 L598.11 60.19 L598.83 59.31 L599.56 58.48 L600.28 57.69 L601.00 56.92 L601.73 56.15 L602.45 55.41 L603.17 54.71 L603.90 54.07 L604.62 53.52 L605.34 53.02 L606.07 52.56 L606.79 52.13 L607.51 51.71 L608.24 51.30 L608.96 50.87 L609.68 50.45 L610.41 50.02 L611.13 49.60 L611.85 49.19 L612.58 48.80 L613.30 48.44 L614.02 48.10 L614.74 47.77 L615.47 47.45 L616.19 47.14 L616.91 46.84 L617.64 46.55 L618.36 46.27 L619.08 46.00 L619.81 45.73 L620.53 45.47 L621.25 45.21 L621.98 44.95 L622.70 44.70 L623.42 44.44 L624.15 44.19 L624.87 43.95 L625.59 43.71 L626.32 43.47 L627.04 43.24 L629.93 42.34 L632.83 41.53 L635.72 40.75 L638.61 40.00 L641.50 39.32 L644.40 38.65 L647.29 38.00 L650.18 37.35 L653.08 36.72 L655.97 36.11 L658.86 35.50 L661.76 34.90 L664.65 34.32 L667.54 33.75 L670.43 33.19 L673.33 32.63 L676.22 32.09 L679.11 31.56 L682.01 31.03 L684.90 30.52" fill="none" stroke="#008000" stroke-width="1.75" stroke-linejoin="round"/>
<path d="M684.90 10.18 L682.01 10.78 L679.11 11.40 L676.22 12.02 L673.33 12.66 L670.43 13.31 L667.54 13.98 L664.65 14.66 L661.76 15.35 L658.86 16.06 L655.97 16.78 L653.08 17.52 L650.18 18.27 L647.29 19.04 L644.40 19.83 L641.50 20.63 L638.61 21.45 L635.72 22.29 L632.83 23.15 L629.93 24.03 L627.04 24.92 L626.32 25.15 L625.59 25.38 L624.87 25.61 L624.15 25.84 L623.42 26.08 L622.70 26.31 L621.98 26.55 L621.25 26.78 L620.53 27.02 L619.81 27.26 L619.08 27.50 L618.36 27.74 L617.64 27.99 L616.91 28.23 L616.19 28.48 L615.47 28.73 L614.74 28.98 L614.02 29.23 L613.30 29.48 L612.58 29.73 L611.85 29.99 L611.13 30.25 L610.41 30.50 L609.68 30.76 L608.96 31.03 L608.24 31.29 L607.51 31.55 L606.79 31.82 L606.07 32.09 L605.34 32.36 L604.62 32.63 L603.90 32.90 L603.17 33.17 L602.45 33.45 L601.73 33.73 L601.00 34.01 L600.28 34.29 L599.56 34.57 L598.83 34.85 L598.11 35.14 L597.39 35.43 L596.66 35.72 L595.94 36.01 L595.22 36.30 L594.49 36.60 L593.77 36.89 L593.05 37.19 L592.32 37.49 L591.60 37.79 L590.88 38.10 L590.15 38.40 L589.43 38.71 L588.71 39.02 L587.98 39.33 L587.26 39.65 L586.54 39.96 L585.81 40.28 L585.09 40.60 L584.37 40.92 L583.64 41.25 L582.92 41.57 L582.20 41.90 L581.48 42.23 L580.75 42.57 L580.03 42.90 L579.31 43.24 L578.58 43.58 L577.86 43.92 L577.14 44.26 L576.41 44.61 L575.69 44.96 L574.97 45.31 L574.24 45.67 L573.52 46.03 L572.80 46.39 L572.07 46.75 L571.35 47.12 L570.63 47.49 L569.90 47.86 L569.18 48.24 L568.46 48.62 L567.73 49.01 L567.01 49.40 L566.29 49.79 L565.56 50.19 L564.84 50.59 L564.12 51.00 L563.39 51.42 L562.67 51.84 L561.95 52.27 L561.22 52.70 L560.50 53.15 L559.78 53.60 L559.05 54.06 L558.33 54.53 L557.61 55.01 L556.88 55.51 L556.16 56.02 L555.44 56.55 L554.72 57.09 L553.99 57.65 L553.27 58.23 L552.55 58.83 L551.82 59.46 L551.10 60.12 L550.38 60.81 L549.65 61.54 L548.93 62.31 L548.21 63.12 L547.48 63.98 L546.76 64.90 L546.04 65.88 L545.31 66.93 L544.59 68.06 L543.87 69.28 L543.14 70.59 L542.42 72.02 L541.70 73.58 L540.97 75.28 L540.25 77.13 L539.53 78.49 L538.80 79.92 L538.08 81.41 L537.36 82.96 L536.63 84.57 L535.91 86.22 L535.19 87.91 L534.46 89.63 L533.74 91.39 L533.02 93.35 L532.29 95.36 L531.57 97.16 L530.85 98.63 L530.12 100.11 L529.40 101.66 L528.68 103.25 L527.95 104.84 L527.23 106.45 L526.51 108.04 L525.78 109.61 L525.06 111.15 L524.34 112.67 L523.62 114.22 L522.89 115.80 L522.17 117.44 L521.45 119.18 L520.72 121.06 L520.00 123.05 L519.28 125.10 L518.55 127.18 L517.83 129.24 L517.11 131.27 L516.38 133.32 L515.66 135.38 L514.94 137.44 L514.21 139.51 L513.49 141.58 L512.77 143.65 L512.04 145.72 L511.32 147.80 L510.60 149.89 L509.87 151.98 L509.15 154.06 L508.43 156.11 L507.70 158.12 L506.98 160.07 L506.26 162.01 L505.53 163.97 L504.81 165.99 L504.09 168.12 L503.36 170.35 L502.64 172.62 L501.92 174.88 L501.19 177.08 L500.47 179.21 L499.75 181.35 L499.02 183.48 L498.30 185.58 L497.58 187.64 L496.86 189.65 L496.13 191.59 L495.41 193.46 L494.69 195.25 L493.96 196.98 L493.24 198.68 L492.52 200.33 L491.79 201.93 L491.07 203.50 L490.35 205.01 L489.62 206.48 L488.90 207.91 L488.18 209.29 L487.45 210.65 L486.73 211.97 L486.01 213.23 L485.28 214.41 L484.56 215.50 L483.84 216.53 L483.11 217.51 L482.39 218.45 L481.67 219.33 L480.94 220.14 L480.22 220.86 L479.50 221.52 L478.77 222.15 L478.05 222.74 L477.33 223.30 L476.60 223.83 L475.88 224.35 L475.16 224.86 L474.43 225.36 L473.71 225.84 L472.99 226.29 L472.26 226.72 L471.54 227.11 L470.82 227.48 L470.09 227.83 L469.37 228.18 L468.65 228.51 L467.93 228.83 L467.20 229.16 L466.48 229.47 L465.76 229.79 L465.03 230.10 L464.31 230.40 L463.59 230.69 L462.86 230.98 L462.14 231.27 L461.42 231.55 L460.69 231.82 L459.97 232.09 L459.25 232.36 L458.52 232.62 L457.80 232.88 L457.08 233.14 L456.35 233.40 L455.63 233.66 L454.91 233.90 L454.18 234.14 L453.46 234.38 L450.57 235.27 L447.67 236.15 L444.78 237.01 L441.89 237.85 L439.00 238.67 L436.10 239.47 L433.21 240.26 L430.32 241.03 L427.42 241.78 L424.53 242.52 L421.64 243.24 L418.74 243.95 L415.85 244.64 L412.96 245.32 L410.07 245.99 L407.17 246.64 L404.28 247.28 L401.39 247.90 L398.49 248.52 L395.60 249.12 L395.60 249.12 L398.49 248.52 L401.39 247.90 L404.28 247.28 L407.17 246.64 L410.07 245.99 L412.96 245.32 L415.85 244.64 L418.74 243.95 L421.64 243.24 L424.53 242.52 L427.42 241.78 L430.32 241.03 L433.21 240.26 L436.10 239.47 L439.00 238.67 L441.89 237.85 L444.78 237.01 L447.67 236.15 L450.57 235.27 L453.46 234.38 L454.18 234.15 L454.91 233.92 L455.63 233.69 L456.35 233.46 L457.08 233.22 L457.80 232.99 L458.52 232.75 L459.25 232.52 L459.97 232.28 L460.69 232.04 L461.42 231.80 L462.14 231.56 L462.86 231.31 L463.59 231.07 L464.31 230.82 L465.03 230.57 L465.76 230.32 L466.48 230.07 L467.20 229.82 L467.93 229.57 L468.65 229.31 L469.37 229.05 L470.09 228.80 L470.82 228.54 L471.54 228.27 L472.26 228.01 L472.99 227.75 L473.71 227.48 L474.43 227.21 L475.16 226.94 L475.88 226.67 L476.60 226.40 L477.33 226.13 L478.05 225.85 L478.77 225.57 L479.50 225.29 L480.22 225.01 L480.94 224.73 L481.67 224.45 L482.39 224.16 L483.11 223.87 L483.84 223.58 L484.56 223.29 L485.28 223.00 L486.01 222.70 L486.73 222.41 L487.45 222.11 L488.18 221.81 L488.90 221.51 L489.62 221.20 L490.35 220.90 L491.07 220.59 L491.79 220.28 L492.52 219.97 L493.24 219.65 L493.96 219.34 L494.69 219.02 L495.41 218.70 L496.13 218.38 L496.86 218.05 L497.58 217.73 L498.30 217.40 L499.02 217.07 L499.75 216.73 L500.47 216.40 L501.19 216.06 L501.92 215.72 L502.64 215.38 L503.36 215.04 L504.09 214.69 L504.81 214.34 L505.53 213.99 L506.26 213.63 L506.98 213.27 L507.70 212.91 L508.43 212.55 L509.15 212.18 L509.87 211.81 L510.60 211.44 L511.32 211.06 L512.04 210.68 L512.77 210.29 L513.49 209.90 L514.21 209.51 L514.94 209.11 L515.66 208.71 L516.38 208.30 L517.11 207.88 L517.83 207.46 L518.55 207.03 L519.28 206.60 L520.00 206.15 L520.72 205.70 L521.45 205.24 L522.17 204.77 L522.89 204.29 L523.62 203.79 L524.34 203.28 L525.06 202.75 L525.78 202.21 L526.51 201.65 L527.23 201.07 L527.95 200.47 L528.68 199.84 L529.40 199.18 L530.12 198.49 L530.85 197.76 L531.57 196.99 L532.29 196.18 L533.02 195.32 L533.74 194.40 L534.46 193.42 L535.19 192.37 L535.91 191.24 L536.63 190.02 L537.36 188.71 L538.08 187.28 L538.80 185.72 L539.53 184.02 L540.25 182.17 L540.97 180.81 L541.70 179.38 L542.42 177.89 L543.14 176.34 L543.87 174.73 L544.59 173.08 L545.31 171.39 L546.04 169.67 L546.76 167.91 L547.48 165.95 L548.21 163.94 L548.93 162.14 L549.65 160.67 L550.38 159.19 L551.10 157.64 L551.82 156.05 L552.55 154.46 L553.27 152.85 L553.99 151.26 L554.72 149.69 L555.44 148.15 L556.16 146.63 L556.88 145.08 L557.61 143.50 L558.33 141.86 L559.05 140.12 L559.78 138.24 L560.50 136.25 L561.22 134.20 L561.95 132.12 L562.67 130.06 L563.39 128.03 L564.12 125.98 L564.84 123.92 L565.56 121.86 L566.29 119.79 L567.01 117.72 L567.73 115.65 L568.46 113.58 L569.18 111.50 L569.90 109.41 L570.63 107.32 L571.35 105.24 L572.07 103.19 L572.80 101.18 L573.52 99.23 L574.24 97.29 L574.97 95.33 L575.69 93.31 L576.41 91.18 L577.14 88.95 L577.86 86.68 L578.58 84.42 L579.31 82.22 L580.03 80.09 L580.75 77.95 L581.48 75.82 L582.20 73.72 L582.92 71.66 L583.64 69.65 L584.37 67.71 L585.09 65.84 L585.81 64.05 L586.54 62.32 L587.26 60.62 L587.98 58.97 L588.71 57.37 L589.43 55.80 L590.15 54.29 L590.88 52.82 L591.60 51.39 L592.32 50.01 L593.05 48.65 L593.77 47.33 L594.49 46.07 L595.22 44.89 L595.94 43.80 L596.66 42.77 L597.39 41.79 L598.11 40.85 L598.83 39.97 L599.56 39.16 L600.28 38.44 L601.00 37.78 L601.73 37.15 L602.45 36.56 L603.17 36.00 L603.90 35.47 L604.62 34.95 L605.34 34.44 L606.07 33.94 L606.79 33.46 L607.51 33.01 L608.24 32.58 L608.96 32.19 L609.68 31.82 L610.41 31.47 L611.13 31.12 L611.85 30.79 L612.58 30.47 L613.30 30.14 L614.02 29.83 L614.74 29.51 L615.47 29.20 L616.19 28.90 L616.91 28.61 L617.64 28.32 L618.36 28.03 L619.08 27.75 L619.81 27.48 L620.53 27.21 L621.25 26.94 L621.98 26.68 L622.70 26.42 L623.42 26.16 L624.15 25.90 L624.87 25.64 L625.59 25.40 L626.32 25.16 L627.04 24.92 L629.93 24.03 L632.83 23.15 L635.72 22.29 L638.61 21.45 L641.50 20.63 L644.40 19.83 L647.29 19.04 L650.18 18.27 L653.08 17.52 L655.97 16.78 L658.86 16.06 L661.76 15.35 L664.65 14.66 L667.54 13.98 L670.43 13.31 L673.33 12.66 L676.22 12.02 L679.11 11.40 L682.01 10.78 L684.90 10.18" fill="none" stroke="#8000ff" stroke-width="1.75" stroke-linejoin="round"/>
<line x1="540.25" y1="7.70" x2="540.25" y2="251.60" stroke="#000" stroke-width="1.7"/>
<line x1="395.60" y1="129.65" x2="684.90" y2="129.65" stroke="#000" stroke-width="1.7"/>
<rect x="395.60" y="7.70" width="289.30" height="243.90" fill="none" stroke="#000" stroke-width="1.8"/>
<line x1="395.60" y1="251.60" x2="395.60" y2="246.10" stroke="#000" stroke-width="1.3"/>
<line x1="431.76" y1="251.60" x2="431.76" y2="248.60" stroke="#000" stroke-width="1.3"/>
<line x1="467.93" y1="251.60" x2="467.93" y2="246.10" stroke="#000" stroke-width="1.3"/>
<line x1="504.09" y1="251.60" x2="504.09" y2="248.60" stroke="#000" stroke-width="1.3"/>
<line x1="540.25" y1="251.60" x2="540.25" y2="246.10" stroke="#000" stroke-width="1.3"/>
<line x1="576.41" y1="251.60" x2="576.41" y2="248.60" stroke="#000" stroke-width="1.3"/>
<line x1="612.58" y1="251.60" x2="612.58" y2="246.10" stroke="#000" stroke-width="1.3"/>
<line x1="648.74" y1="251.60" x2="648.74" y2="248.60" stroke="#000" stroke-width="1.3"/>
<line x1="684.90" y1="251.60" x2="684.90" y2="246.10" stroke="#000" stroke-width="1.3"/>
<line x1="395.60" y1="251.60" x2="401.10" y2="251.60" stroke="#000" stroke-width="1.3"/>
<line x1="395.60" y1="221.11" x2="398.60" y2="221.11" stroke="#000" stroke-width="1.3"/>
<line x1="395.60" y1="190.62" x2="401.10" y2="190.62" stroke="#000" stroke-width="1.3"/>
<line x1="395.60" y1="160.14" x2="398.60" y2="160.14" stroke="#000" stroke-width="1.3"/>
<line x1="395.60" y1="129.65" x2="401.10" y2="129.65" stroke="#000" stroke-width="1.3"/>
<line x1="395.60" y1="99.16" x2="398.60" y2="99.16" stroke="#000" stroke-width="1.3"/>
<line x1="395.60" y1="68.68" x2="401.10" y2="68.68" stroke="#000" stroke-width="1.3"/>
<line x1="395.60" y1="38.19" x2="398.60" y2="38.19" stroke="#000" stroke-width="1.3"/>
<line x1="395.60" y1="7.70" x2="401.10" y2="7.70" stroke="#000" stroke-width="1.3"/>
<text x="395.60" y="270.70" text-anchor="middle" font-size="18.2">-50</text>
<text x="467.93" y="270.70" text-anchor="middle" font-size="18.2">-25</text>
<text x="540.25" y="270.70" text-anchor="middle" font-size="18.2">0</text>
<text x="612.58" y="270.70" text-anchor="middle" font-size="18.2">25</text>
<text x="684.90" y="270.70" text-anchor="middle" font-size="18.2">50</text>
<text x="389.60" y="256.60" text-anchor="end" font-size="18.2">-72</text>
<text x="389.60" y="195.62" text-anchor="end" font-size="18.2">-36</text>
<text x="389.60" y="134.65" text-anchor="end" font-size="18.2">0</text>
<text x="389.60" y="73.68" text-anchor="end" font-size="18.2">36</text>
<text x="389.60" y="12.70" text-anchor="end" font-size="18.2">72</text>
<text x="540.25" y="288.70" text-anchor="middle" font-size="19.5">H (kOe)</text>
<text transform="translate(360.50 121.85) rotate(-90)" text-anchor="middle" font-size="18.9">M (emu/g)</text>
<text x="404.10" y="25.70" font-size="15">(B)</text>
<text x="547.00" y="26.20" font-size="15">325 K</text>
<text x="661.90" y="32.40" font-size="16.8">(e)</text>
<text x="661.90" y="119.50" font-size="16.8">(a)</text>
<line x1="672.70" y1="102.40" x2="672.70" y2="58.00" stroke="#0000ff" stroke-width="1.6" stroke-dasharray="1.5 1.3"/>
<path d="M672.70 52.50 l-2.9 6 l5.8 0 z" fill="#0000ff"/>
<line x1="639.00" y1="158.90" x2="656.10" y2="158.90" stroke="#000000" stroke-width="1.6"/>
<text x="659.60" y="163.40" font-size="14.6">(a)</text>
<line x1="639.00" y1="177.29" x2="656.10" y2="177.29" stroke="#ff0000" stroke-width="1.6"/>
<text x="659.60" y="181.79" font-size="14.6">(b)</text>
<line x1="639.00" y1="195.68" x2="656.10" y2="195.68" stroke="#0000ff" stroke-width="1.6"/>
<text x="659.60" y="200.18" font-size="14.6">(c)</text>
<line x1="639.00" y1="214.07" x2="656.10" y2="214.07" stroke="#008000" stroke-width="1.6"/>
<text x="659.60" y="218.57" font-size="14.6">(d)</text>
<line x1="639.00" y1="232.46" x2="656.10" y2="232.46" stroke="#8000ff" stroke-width="1.6"/>
<text x="659.60" y="236.96" font-size="14.6">(e)</text></g>
<g><path d="M503.90 393.76 L501.15 393.86 L498.40 393.96 L495.66 394.07 L492.91 394.18 L490.16 394.29 L487.41 394.41 L484.66 394.53 L481.92 394.65 L479.17 394.78 L476.42 394.91 L473.67 395.05 L470.92 395.19 L468.18 395.33 L465.43 395.48 L462.68 395.64 L459.93 395.80 L457.18 395.96 L454.44 396.12 L451.69 396.29 L448.94 396.46 L448.25 396.50 L447.57 396.54 L446.88 396.59 L446.19 396.63 L445.50 396.67 L444.82 396.72 L444.13 396.76 L443.44 396.81 L442.76 396.85 L442.07 396.90 L441.38 396.94 L440.70 396.99 L440.01 397.03 L439.32 397.08 L438.63 397.13 L437.95 397.17 L437.26 397.22 L436.57 397.27 L435.89 397.32 L435.20 397.37 L434.51 397.42 L433.83 397.47 L433.14 397.52 L432.45 397.57 L431.76 397.62 L431.08 397.67 L430.39 397.72 L429.70 397.77 L429.02 397.82 L428.33 397.87 L427.64 397.93 L426.96 397.98 L426.27 398.03 L425.58 398.08 L424.89 398.14 L424.21 398.19 L423.52 398.24 L422.83 398.29 L422.15 398.35 L421.46 398.40 L420.77 398.46 L420.09 398.51 L419.40 398.56 L418.71 398.62 L418.02 398.67 L417.34 398.73 L416.65 398.78 L415.96 398.84 L415.28 398.89 L414.59 398.94 L413.90 399.00 L413.22 399.05 L412.53 399.10 L411.84 399.15 L411.15 399.21 L410.47 399.26 L409.78 399.31 L409.09 399.37 L408.41 399.42 L407.72 399.47 L407.03 399.52 L406.35 399.58 L405.66 399.63 L404.97 399.68 L404.28 399.73 L403.60 399.78 L402.91 399.83 L402.22 399.88 L401.54 399.93 L400.85 399.98 L400.16 400.04 L399.48 400.09 L398.79 400.15 L398.10 400.21 L397.41 400.27 L396.73 400.33 L396.04 400.39 L395.35 400.46 L394.67 400.52 L393.98 400.59 L393.29 400.66 L392.61 400.73 L391.92 400.79 L391.23 400.86 L390.55 400.93 L389.86 400.99 L389.17 401.06 L388.48 401.12 L387.80 401.19 L387.11 401.25 L386.42 401.31 L385.74 401.37 L385.05 401.44 L384.36 401.50 L383.68 401.57 L382.99 401.64 L382.30 401.71 L381.61 401.79 L380.93 401.86 L380.24 401.94 L379.55 402.02 L378.87 402.10 L378.18 402.19 L377.49 402.28 L376.81 402.36 L376.12 402.46 L375.43 402.55 L374.74 402.65 L374.06 402.75 L373.37 402.86 L372.68 402.97 L372.00 403.07 L371.31 403.18 L370.62 403.30 L369.94 403.45 L369.25 403.62 L368.56 403.90 L367.87 404.28 L367.19 404.73 L366.50 405.27 L365.81 405.81 L365.13 406.36 L364.44 406.92 L363.75 407.49 L363.06 408.06 L362.38 408.64 L361.69 409.23 L361.00 409.83 L360.32 410.43 L359.63 411.04 L358.94 411.65 L358.26 412.26 L357.57 412.88 L356.88 413.52 L356.19 414.17 L355.51 414.85 L354.82 415.54 L354.13 416.24 L353.45 416.97 L352.76 417.73 L352.07 418.51 L351.39 419.30 L350.70 420.09 L350.01 420.88 L349.32 421.67 L348.64 422.46 L347.95 423.26 L347.26 424.06 L346.58 424.84 L345.89 425.62 L345.20 426.41 L344.52 427.18 L343.83 427.93 L343.14 428.61 L342.45 429.24 L341.77 429.84 L341.08 430.41 L340.39 430.96 L339.71 431.50 L339.02 432.02 L338.33 432.54 L337.65 433.04 L336.96 433.52 L336.27 434.00 L335.59 434.46 L334.90 434.92 L334.21 435.37 L333.52 435.81 L332.84 436.24 L332.15 436.67 L331.46 437.08 L330.78 437.49 L330.09 437.90 L329.40 438.29 L328.72 438.68 L328.03 439.07 L327.34 439.45 L326.65 439.83 L325.97 440.21 L325.28 440.58 L324.59 440.95 L323.91 441.32 L323.22 441.69 L322.53 442.06 L321.85 442.43 L321.16 442.82 L320.47 443.21 L319.78 443.61 L319.10 444.01 L318.41 444.42 L317.72 444.81 L317.04 445.21 L316.35 445.61 L315.66 446.02 L314.98 446.42 L314.29 446.81 L313.60 447.18 L312.91 447.52 L312.23 447.84 L311.54 448.14 L310.85 448.44 L310.17 448.71 L309.48 448.97 L308.79 449.21 L308.11 449.44 L307.42 449.66 L306.73 449.87 L306.04 450.08 L305.36 450.29 L304.67 450.48 L303.98 450.66 L303.30 450.83 L302.61 450.99 L301.92 451.13 L301.24 451.27 L300.55 451.41 L299.86 451.55 L299.17 451.68 L298.49 451.82 L297.80 451.95 L297.11 452.08 L296.43 452.20 L295.74 452.32 L295.05 452.44 L294.37 452.55 L293.68 452.66 L292.99 452.76 L292.30 452.86 L291.62 452.94 L290.93 453.03 L290.24 453.10 L289.56 453.17 L288.87 453.22 L288.18 453.27 L287.50 453.32 L286.81 453.36 L286.12 453.40 L285.43 453.45 L284.75 453.49 L284.06 453.53 L281.31 453.70 L278.56 453.87 L275.82 454.03 L273.07 454.19 L270.32 454.35 L267.57 454.51 L264.82 454.66 L262.08 454.80 L259.33 454.94 L256.58 455.08 L253.83 455.21 L251.08 455.34 L248.34 455.46 L245.59 455.58 L242.84 455.70 L240.09 455.81 L237.34 455.92 L234.60 456.03 L231.85 456.13 L229.10 456.23 L229.10 456.23 L231.85 456.13 L234.60 456.03 L237.34 455.92 L240.09 455.81 L242.84 455.70 L245.59 455.58 L248.34 455.46 L251.08 455.34 L253.83 455.21 L256.58 455.08 L259.33 454.94 L262.08 454.80 L264.82 454.66 L267.57 454.51 L270.32 454.35 L273.07 454.19 L275.82 454.03 L278.56 453.87 L281.31 453.70 L284.06 453.53 L284.75 453.49 L285.43 453.45 L286.12 453.40 L286.81 453.36 L287.50 453.32 L288.18 453.27 L288.87 453.23 L289.56 453.18 L290.24 453.14 L290.93 453.09 L291.62 453.05 L292.30 453.00 L292.99 452.96 L293.68 452.91 L294.37 452.86 L295.05 452.82 L295.74 452.77 L296.43 452.72 L297.11 452.67 L297.80 452.62 L298.49 452.57 L299.17 452.52 L299.86 452.47 L300.55 452.42 L301.24 452.37 L301.92 452.32 L302.61 452.27 L303.30 452.22 L303.98 452.17 L304.67 452.12 L305.36 452.06 L306.04 452.01 L306.73 451.96 L307.42 451.91 L308.11 451.85 L308.79 451.80 L309.48 451.75 L310.17 451.70 L310.85 451.64 L311.54 451.59 L312.23 451.53 L312.91 451.48 L313.60 451.43 L314.29 451.37 L314.98 451.32 L315.66 451.26 L316.35 451.21 L317.04 451.15 L317.72 451.10 L318.41 451.05 L319.10 450.99 L319.78 450.94 L320.47 450.89 L321.16 450.84 L321.85 450.78 L322.53 450.73 L323.22 450.68 L323.91 450.62 L324.59 450.57 L325.28 450.52 L325.97 450.47 L326.65 450.41 L327.34 450.36 L328.03 450.31 L328.72 450.26 L329.40 450.21 L330.09 450.16 L330.78 450.11 L331.46 450.06 L332.15 450.01 L332.84 449.95 L333.52 449.90 L334.21 449.84 L334.90 449.78 L335.59 449.72 L336.27 449.66 L336.96 449.60 L337.65 449.53 L338.33 449.47 L339.02 449.40 L339.71 449.33 L340.39 449.26 L341.08 449.20 L341.77 449.13 L342.45 449.06 L343.14 449.00 L343.83 448.93 L344.52 448.87 L345.20 448.80 L345.89 448.74 L346.58 448.68 L347.26 448.62 L347.95 448.55 L348.64 448.49 L349.32 448.42 L350.01 448.35 L350.70 448.28 L351.39 448.20 L352.07 448.13 L352.76 448.05 L353.45 447.97 L354.13 447.89 L354.82 447.80 L355.51 447.71 L356.19 447.63 L356.88 447.53 L357.57 447.44 L358.26 447.34 L358.94 447.24 L359.63 447.13 L360.32 447.02 L361.00 446.92 L361.69 446.81 L362.38 446.69 L363.06 446.54 L363.75 446.37 L364.44 446.09 L365.13 445.71 L365.81 445.26 L366.50 444.72 L367.19 444.18 L367.87 443.63 L368.56 443.07 L369.25 442.50 L369.94 441.93 L370.62 441.35 L371.31 440.76 L372.00 440.16 L372.68 439.56 L373.37 438.95 L374.06 438.34 L374.74 437.73 L375.43 437.11 L376.12 436.47 L376.81 435.82 L377.49 435.14 L378.18 434.45 L378.87 433.75 L379.55 433.02 L380.24 432.26 L380.93 431.48 L381.61 430.69 L382.30 429.90 L382.99 429.11 L383.68 428.32 L384.36 427.53 L385.05 426.73 L385.74 425.93 L386.42 425.15 L387.11 424.37 L387.80 423.58 L388.48 422.81 L389.17 422.06 L389.86 421.38 L390.55 420.75 L391.23 420.15 L391.92 419.58 L392.61 419.03 L393.29 418.49 L393.98 417.97 L394.67 417.45 L395.35 416.95 L396.04 416.47 L396.73 415.99 L397.41 415.53 L398.10 415.07 L398.79 414.62 L399.48 414.18 L400.16 413.75 L400.85 413.32 L401.54 412.91 L402.22 412.50 L402.91 412.09 L403.60 411.70 L404.28 411.31 L404.97 410.92 L405.66 410.54 L406.35 410.16 L407.03 409.78 L407.72 409.41 L408.41 409.04 L409.09 408.67 L409.78 408.30 L410.47 407.93 L411.15 407.56 L411.84 407.17 L412.53 406.78 L413.22 406.38 L413.90 405.98 L414.59 405.57 L415.28 405.18 L415.96 404.78 L416.65 404.38 L417.34 403.97 L418.02 403.57 L418.71 403.18 L419.40 402.81 L420.09 402.47 L420.77 402.15 L421.46 401.85 L422.15 401.55 L422.83 401.28 L423.52 401.02 L424.21 400.78 L424.89 400.55 L425.58 400.33 L426.27 400.12 L426.96 399.91 L427.64 399.70 L428.33 399.51 L429.02 399.33 L429.70 399.16 L430.39 399.00 L431.08 398.86 L431.76 398.72 L432.45 398.58 L433.14 398.44 L433.83 398.31 L434.51 398.17 L435.20 398.04 L435.89 397.91 L436.57 397.79 L437.26 397.67 L437.95 397.55 L438.63 397.44 L439.32 397.33 L440.01 397.23 L440.70 397.13 L441.38 397.05 L442.07 396.96 L442.76 396.89 L443.44 396.82 L444.13 396.77 L444.82 396.72 L445.50 396.67 L446.19 396.63 L446.88 396.59 L447.57 396.54 L448.25 396.50 L448.94 396.46 L451.69 396.29 L454.44 396.12 L457.18 395.96 L459.93 395.80 L462.68 395.64 L465.43 395.48 L468.18 395.33 L470.92 395.19 L473.67 395.05 L476.42 394.91 L479.17 394.78 L481.92 394.65 L484.66 394.53 L487.41 394.41 L490.16 394.29 L492.91 394.18 L495.66 394.07 L498.40 393.96 L501.15 393.86 L503.90 393.76" fill="none" stroke="#000000" stroke-width="1.75" stroke-linejoin="round"/>
<path d="M503.90 363.13 L501.15 363.52 L498.40 363.91 L495.66 364.31 L492.91 364.70 L490.16 365.09 L487.41 365.49 L484.66 365.89 L481.92 366.29 L479.17 366.69 L476.42 367.10 L473.67 367.50 L470.92 367.91 L468.18 368.32 L465.43 368.73 L462.68 369.14 L459.93 369.56 L457.18 369.97 L454.44 370.39 L451.69 370.81 L448.94 371.24 L448.25 371.34 L447.57 371.45 L446.88 371.56 L446.19 371.66 L445.50 371.77 L444.82 371.88 L444.13 371.99 L443.44 372.09 L442.76 372.20 L442.07 372.31 L441.38 372.42 L440.70 372.53 L440.01 372.63 L439.32 372.74 L438.63 372.85 L437.95 372.96 L437.26 373.07 L436.57 373.18 L435.89 373.29 L435.20 373.40 L434.51 373.51 L433.83 373.62 L433.14 373.73 L432.45 373.84 L431.76 373.95 L431.08 374.06 L430.39 374.17 L429.70 374.28 L429.02 374.40 L428.33 374.51 L427.64 374.62 L426.96 374.73 L426.27 374.85 L425.58 374.96 L424.89 375.07 L424.21 375.19 L423.52 375.30 L422.83 375.42 L422.15 375.53 L421.46 375.65 L420.77 375.76 L420.09 375.88 L419.40 376.00 L418.71 376.12 L418.02 376.23 L417.34 376.35 L416.65 376.47 L415.96 376.59 L415.28 376.71 L414.59 376.83 L413.90 376.95 L413.22 377.07 L412.53 377.20 L411.84 377.32 L411.15 377.44 L410.47 377.57 L409.78 377.69 L409.09 377.82 L408.41 377.95 L407.72 378.07 L407.03 378.20 L406.35 378.33 L405.66 378.46 L404.97 378.60 L404.28 378.73 L403.60 378.86 L402.91 379.00 L402.22 379.13 L401.54 379.27 L400.85 379.41 L400.16 379.55 L399.48 379.70 L398.79 379.84 L398.10 379.98 L397.41 380.13 L396.73 380.28 L396.04 380.43 L395.35 380.59 L394.67 380.74 L393.98 380.90 L393.29 381.06 L392.61 381.22 L391.92 381.39 L391.23 381.56 L390.55 381.73 L389.86 381.90 L389.17 382.08 L388.48 382.26 L387.80 382.44 L387.11 382.63 L386.42 382.82 L385.74 383.02 L385.05 383.22 L384.36 383.42 L383.68 383.63 L382.99 383.85 L382.30 384.07 L381.61 384.30 L380.93 384.53 L380.24 384.77 L379.55 385.01 L378.87 385.26 L378.18 385.52 L377.49 385.79 L376.81 386.06 L376.12 386.34 L375.43 386.64 L374.74 386.94 L374.06 387.25 L373.37 387.57 L372.68 387.90 L372.00 388.25 L371.31 388.60 L370.62 388.97 L369.94 389.35 L369.25 389.75 L368.56 390.16 L367.87 390.59 L367.19 391.03 L366.50 391.50 L365.81 391.87 L365.13 392.25 L364.44 392.64 L363.75 393.03 L363.06 393.43 L362.38 393.83 L361.69 394.24 L361.00 394.65 L360.32 395.07 L359.63 395.51 L358.94 395.97 L358.26 396.45 L357.57 396.95 L356.88 397.48 L356.19 398.03 L355.51 398.59 L354.82 399.17 L354.13 399.75 L353.45 400.35 L352.76 400.97 L352.07 401.61 L351.39 402.27 L350.70 402.93 L350.01 403.59 L349.32 404.26 L348.64 404.93 L347.95 405.62 L347.26 406.32 L346.58 407.02 L345.89 407.73 L345.20 408.45 L344.52 409.18 L343.83 409.91 L343.14 410.66 L342.45 411.42 L341.77 412.19 L341.08 412.97 L340.39 413.76 L339.71 414.56 L339.02 415.38 L338.33 416.23 L337.65 417.12 L336.96 418.06 L336.27 419.06 L335.59 420.12 L334.90 421.23 L334.21 422.37 L333.52 423.55 L332.84 424.75 L332.15 426.02 L331.46 427.41 L330.78 428.77 L330.09 429.99 L329.40 431.09 L328.72 432.12 L328.03 433.10 L327.34 434.06 L326.65 435.01 L325.97 435.98 L325.28 436.96 L324.59 437.95 L323.91 438.93 L323.22 439.91 L322.53 440.89 L321.85 441.86 L321.16 442.84 L320.47 443.81 L319.78 444.78 L319.10 445.75 L318.41 446.73 L317.72 447.73 L317.04 448.75 L316.35 449.78 L315.66 450.82 L314.98 451.88 L314.29 452.96 L313.60 454.05 L312.91 455.16 L312.23 456.33 L311.54 457.56 L310.85 458.79 L310.17 459.97 L309.48 461.04 L308.79 462.03 L308.11 462.99 L307.42 463.91 L306.73 464.79 L306.04 465.63 L305.36 466.43 L304.67 467.19 L303.98 467.91 L303.30 468.60 L302.61 469.27 L301.92 469.90 L301.24 470.50 L300.55 471.06 L299.86 471.59 L299.17 472.11 L298.49 472.61 L297.80 473.08 L297.11 473.49 L296.43 473.85 L295.74 474.16 L295.05 474.45 L294.37 474.71 L293.68 474.96 L292.99 475.20 L292.30 475.44 L291.62 475.68 L290.93 475.92 L290.24 476.16 L289.56 476.39 L288.87 476.61 L288.18 476.83 L287.50 477.04 L286.81 477.24 L286.12 477.45 L285.43 477.64 L284.75 477.83 L284.06 478.01 L281.31 478.63 L278.56 479.20 L275.82 479.76 L273.07 480.28 L270.32 480.77 L267.57 481.24 L264.82 481.67 L262.08 482.08 L259.33 482.49 L256.58 482.89 L253.83 483.30 L251.08 483.70 L248.34 484.10 L245.59 484.50 L242.84 484.90 L240.09 485.29 L237.34 485.68 L234.60 486.08 L231.85 486.47 L229.10 486.86 L229.10 486.86 L231.85 486.47 L234.60 486.08 L237.34 485.68 L240.09 485.29 L242.84 484.90 L245.59 484.50 L248.34 484.10 L251.08 483.70 L253.83 483.30 L256.58 482.89 L259.33 482.49 L262.08 482.08 L264.82 481.67 L267.57 481.26 L270.32 480.85 L273.07 480.43 L275.82 480.02 L278.56 479.60 L281.31 479.18 L284.06 478.75 L284.75 478.65 L285.43 478.54 L286.12 478.43 L286.81 478.33 L287.50 478.22 L288.18 478.11 L288.87 478.00 L289.56 477.90 L290.24 477.79 L290.93 477.68 L291.62 477.57 L292.30 477.46 L292.99 477.36 L293.68 477.25 L294.37 477.14 L295.05 477.03 L295.74 476.92 L296.43 476.81 L297.11 476.70 L297.80 476.59 L298.49 476.48 L299.17 476.37 L299.86 476.26 L300.55 476.15 L301.24 476.04 L301.92 475.93 L302.61 475.82 L303.30 475.71 L303.98 475.59 L304.67 475.48 L305.36 475.37 L306.04 475.26 L306.73 475.14 L307.42 475.03 L308.11 474.92 L308.79 474.80 L309.48 474.69 L310.17 474.57 L310.85 474.46 L311.54 474.34 L312.23 474.23 L312.91 474.11 L313.60 473.99 L314.29 473.87 L314.98 473.76 L315.66 473.64 L316.35 473.52 L317.04 473.40 L317.72 473.28 L318.41 473.16 L319.10 473.04 L319.78 472.92 L320.47 472.79 L321.16 472.67 L321.85 472.55 L322.53 472.42 L323.22 472.30 L323.91 472.17 L324.59 472.04 L325.28 471.92 L325.97 471.79 L326.65 471.66 L327.34 471.53 L328.03 471.39 L328.72 471.26 L329.40 471.13 L330.09 470.99 L330.78 470.86 L331.46 470.72 L332.15 470.58 L332.84 470.44 L333.52 470.29 L334.21 470.15 L334.90 470.01 L335.59 469.86 L336.27 469.71 L336.96 469.56 L337.65 469.40 L338.33 469.25 L339.02 469.09 L339.71 468.93 L340.39 468.77 L341.08 468.60 L341.77 468.43 L342.45 468.26 L343.14 468.09 L343.83 467.91 L344.52 467.73 L345.20 467.55 L345.89 467.36 L346.58 467.17 L347.26 466.97 L347.95 466.77 L348.64 466.57 L349.32 466.36 L350.01 466.14 L350.70 465.92 L351.39 465.69 L352.07 465.46 L352.76 465.22 L353.45 464.98 L354.13 464.73 L354.82 464.47 L355.51 464.20 L356.19 463.93 L356.88 463.65 L357.57 463.35 L358.26 463.05 L358.94 462.74 L359.63 462.42 L360.32 462.09 L361.00 461.74 L361.69 461.39 L362.38 461.02 L363.06 460.64 L363.75 460.24 L364.44 459.83 L365.13 459.40 L365.81 458.96 L366.50 458.49 L367.19 458.12 L367.87 457.74 L368.56 457.35 L369.25 456.96 L369.94 456.56 L370.62 456.16 L371.31 455.75 L372.00 455.34 L372.68 454.92 L373.37 454.48 L374.06 454.02 L374.74 453.54 L375.43 453.04 L376.12 452.51 L376.81 451.96 L377.49 451.40 L378.18 450.82 L378.87 450.24 L379.55 449.64 L380.24 449.02 L380.93 448.38 L381.61 447.72 L382.30 447.06 L382.99 446.40 L383.68 445.73 L384.36 445.06 L385.05 444.37 L385.74 443.67 L386.42 442.97 L387.11 442.26 L387.80 441.54 L388.48 440.81 L389.17 440.08 L389.86 439.33 L390.55 438.57 L391.23 437.80 L391.92 437.02 L392.61 436.23 L393.29 435.43 L393.98 434.61 L394.67 433.76 L395.35 432.87 L396.04 431.93 L396.73 430.93 L397.41 429.87 L398.10 428.76 L398.79 427.62 L399.48 426.44 L400.16 425.24 L400.85 423.97 L401.54 422.58 L402.22 421.22 L402.91 420.00 L403.60 418.90 L404.28 417.87 L404.97 416.89 L405.66 415.93 L406.35 414.98 L407.03 414.01 L407.72 413.03 L408.41 412.04 L409.09 411.06 L409.78 410.08 L410.47 409.10 L411.15 408.13 L411.84 407.15 L412.53 406.18 L413.22 405.21 L413.90 404.24 L414.59 403.26 L415.28 402.26 L415.96 401.24 L416.65 400.21 L417.34 399.17 L418.02 398.11 L418.71 397.03 L419.40 395.94 L420.09 394.83 L420.77 393.66 L421.46 392.43 L422.15 391.20 L422.83 390.02 L423.52 388.95 L424.21 387.96 L424.89 387.00 L425.58 386.08 L426.27 385.20 L426.96 384.36 L427.64 383.56 L428.33 382.80 L429.02 382.08 L429.70 381.39 L430.39 380.72 L431.08 380.09 L431.76 379.49 L432.45 378.93 L433.14 378.40 L433.83 377.88 L434.51 377.38 L435.20 376.91 L435.89 376.50 L436.57 376.14 L437.26 375.83 L437.95 375.54 L438.63 375.28 L439.32 375.03 L440.01 374.79 L440.70 374.55 L441.38 374.31 L442.07 374.07 L442.76 373.83 L443.44 373.60 L444.13 373.38 L444.82 373.16 L445.50 372.95 L446.19 372.75 L446.88 372.54 L447.57 372.35 L448.25 372.16 L448.94 371.98 L451.69 371.36 L454.44 370.79 L457.18 370.23 L459.93 369.71 L462.68 369.22 L465.43 368.75 L468.18 368.32 L470.92 367.91 L473.67 367.50 L476.42 367.10 L479.17 366.69 L481.92 366.29 L484.66 365.89 L487.41 365.49 L490.16 365.09 L492.91 364.70 L495.66 364.31 L498.40 363.91 L501.15 363.52 L503.90 363.13" fill="none" stroke="#ff0000" stroke-width="1.75" stroke-linejoin="round"/>
<path d="M503.90 347.73 L501.15 348.17 L498.40 348.61 L495.66 349.06 L492.91 349.51 L490.16 349.97 L487.41 350.43 L484.66 350.90 L481.92 351.38 L479.17 351.86 L476.42 352.34 L473.67 352.84 L470.92 353.34 L468.18 353.85 L465.43 354.36 L462.68 354.88 L459.93 355.41 L457.18 355.95 L454.44 356.50 L451.69 357.05 L448.94 357.62 L448.25 357.76 L447.57 357.90 L446.88 358.05 L446.19 358.19 L445.50 358.33 L444.82 358.48 L444.13 358.63 L443.44 358.77 L442.76 358.92 L442.07 359.07 L441.38 359.22 L440.70 359.37 L440.01 359.52 L439.32 359.67 L438.63 359.82 L437.95 359.97 L437.26 360.12 L436.57 360.28 L435.89 360.43 L435.20 360.59 L434.51 360.74 L433.83 360.90 L433.14 361.05 L432.45 361.21 L431.76 361.37 L431.08 361.53 L430.39 361.69 L429.70 361.85 L429.02 362.01 L428.33 362.17 L427.64 362.34 L426.96 362.50 L426.27 362.67 L425.58 362.83 L424.89 363.00 L424.21 363.16 L423.52 363.33 L422.83 363.50 L422.15 363.67 L421.46 363.84 L420.77 364.01 L420.09 364.18 L419.40 364.36 L418.71 364.53 L418.02 364.70 L417.34 364.88 L416.65 365.06 L415.96 365.23 L415.28 365.41 L414.59 365.59 L413.90 365.77 L413.22 365.95 L412.53 366.13 L411.84 366.32 L411.15 366.50 L410.47 366.69 L409.78 366.87 L409.09 367.06 L408.41 367.25 L407.72 367.44 L407.03 367.63 L406.35 367.82 L405.66 368.01 L404.97 368.20 L404.28 368.40 L403.60 368.59 L402.91 368.79 L402.22 368.99 L401.54 369.18 L400.85 369.38 L400.16 369.59 L399.48 369.79 L398.79 369.99 L398.10 370.20 L397.41 370.40 L396.73 370.61 L396.04 370.82 L395.35 371.03 L394.67 371.24 L393.98 371.45 L393.29 371.66 L392.61 371.88 L391.92 372.09 L391.23 372.31 L390.55 372.53 L389.86 372.75 L389.17 372.97 L388.48 373.20 L387.80 373.42 L387.11 373.65 L386.42 373.88 L385.74 374.11 L385.05 374.34 L384.36 374.58 L383.68 374.81 L382.99 375.05 L382.30 375.29 L381.61 375.54 L380.93 375.78 L380.24 376.03 L379.55 376.28 L378.87 376.54 L378.18 376.80 L377.49 377.06 L376.81 377.33 L376.12 377.60 L375.43 377.87 L374.74 378.15 L374.06 378.44 L373.37 378.73 L372.68 379.04 L372.00 379.34 L371.31 379.66 L370.62 379.99 L369.94 380.33 L369.25 380.68 L368.56 381.05 L367.87 381.43 L367.19 381.83 L366.50 382.26 L365.81 382.80 L365.13 383.34 L364.44 383.88 L363.75 384.42 L363.06 384.95 L362.38 385.48 L361.69 386.01 L361.00 386.53 L360.32 387.04 L359.63 387.55 L358.94 388.05 L358.26 388.54 L357.57 389.04 L356.88 389.53 L356.19 390.04 L355.51 390.55 L354.82 391.06 L354.13 391.59 L353.45 392.11 L352.76 392.65 L352.07 393.20 L351.39 393.76 L350.70 394.35 L350.01 394.95 L349.32 395.60 L348.64 396.30 L347.95 397.02 L347.26 397.76 L346.58 398.48 L345.89 399.19 L345.20 399.86 L344.52 400.51 L343.83 401.15 L343.14 401.81 L342.45 402.47 L341.77 403.17 L341.08 403.91 L340.39 404.68 L339.71 405.49 L339.02 406.32 L338.33 407.18 L337.65 408.04 L336.96 408.90 L336.27 409.76 L335.59 410.62 L334.90 411.51 L334.21 412.43 L333.52 413.40 L332.84 414.44 L332.15 415.61 L331.46 416.88 L330.78 418.22 L330.09 419.60 L329.40 420.96 L328.72 422.28 L328.03 423.49 L327.34 424.72 L326.65 426.27 L325.97 427.97 L325.28 429.46 L324.59 430.88 L323.91 432.24 L323.22 433.56 L322.53 434.86 L321.85 436.15 L321.16 437.44 L320.47 438.70 L319.78 439.94 L319.10 441.17 L318.41 442.40 L317.72 443.64 L317.04 444.90 L316.35 446.18 L315.66 447.47 L314.98 448.76 L314.29 450.05 L313.60 451.34 L312.91 452.61 L312.23 453.85 L311.54 455.06 L310.85 456.27 L310.17 457.49 L309.48 458.77 L308.79 460.13 L308.11 461.61 L307.42 463.20 L306.73 464.84 L306.04 466.45 L305.36 467.99 L304.67 469.40 L303.98 470.75 L303.30 472.07 L302.61 473.34 L301.92 474.55 L301.24 475.70 L300.55 476.78 L299.86 477.80 L299.17 478.78 L298.49 479.71 L297.80 480.59 L297.11 481.41 L296.43 482.15 L295.74 482.83 L295.05 483.47 L294.37 484.07 L293.68 484.64 L292.99 485.19 L292.30 485.71 L291.62 486.22 L290.93 486.72 L290.24 487.20 L289.56 487.66 L288.87 488.10 L288.18 488.52 L287.50 488.91 L286.81 489.28 L286.12 489.64 L285.43 489.98 L284.75 490.31 L284.06 490.61 L281.31 491.68 L278.56 492.61 L275.82 493.45 L273.07 494.20 L270.32 494.87 L267.57 495.51 L264.82 496.10 L262.08 496.65 L259.33 497.15 L256.58 497.65 L253.83 498.13 L251.08 498.61 L248.34 499.09 L245.59 499.56 L242.84 500.02 L240.09 500.48 L237.34 500.93 L234.60 501.38 L231.85 501.82 L229.10 502.26 L229.10 502.26 L231.85 501.82 L234.60 501.38 L237.34 500.93 L240.09 500.48 L242.84 500.02 L245.59 499.56 L248.34 499.09 L251.08 498.61 L253.83 498.13 L256.58 497.65 L259.33 497.15 L262.08 496.65 L264.82 496.14 L267.57 495.63 L270.32 495.11 L273.07 494.58 L275.82 494.04 L278.56 493.49 L281.31 492.94 L284.06 492.37 L284.75 492.23 L285.43 492.09 L286.12 491.94 L286.81 491.80 L287.50 491.66 L288.18 491.51 L288.87 491.36 L289.56 491.22 L290.24 491.07 L290.93 490.92 L291.62 490.77 L292.30 490.62 L292.99 490.47 L293.68 490.32 L294.37 490.17 L295.05 490.02 L295.74 489.87 L296.43 489.71 L297.11 489.56 L297.80 489.40 L298.49 489.25 L299.17 489.09 L299.86 488.94 L300.55 488.78 L301.24 488.62 L301.92 488.46 L302.61 488.30 L303.30 488.14 L303.98 487.98 L304.67 487.82 L305.36 487.65 L306.04 487.49 L306.73 487.32 L307.42 487.16 L308.11 486.99 L308.79 486.83 L309.48 486.66 L310.17 486.49 L310.85 486.32 L311.54 486.15 L312.23 485.98 L312.91 485.81 L313.60 485.63 L314.29 485.46 L314.98 485.29 L315.66 485.11 L316.35 484.93 L317.04 484.76 L317.72 484.58 L318.41 484.40 L319.10 484.22 L319.78 484.04 L320.47 483.86 L321.16 483.67 L321.85 483.49 L322.53 483.30 L323.22 483.12 L323.91 482.93 L324.59 482.74 L325.28 482.55 L325.97 482.36 L326.65 482.17 L327.34 481.98 L328.03 481.79 L328.72 481.59 L329.40 481.40 L330.09 481.20 L330.78 481.00 L331.46 480.81 L332.15 480.61 L332.84 480.40 L333.52 480.20 L334.21 480.00 L334.90 479.79 L335.59 479.59 L336.27 479.38 L336.96 479.17 L337.65 478.96 L338.33 478.75 L339.02 478.54 L339.71 478.33 L340.39 478.11 L341.08 477.90 L341.77 477.68 L342.45 477.46 L343.14 477.24 L343.83 477.02 L344.52 476.79 L345.20 476.57 L345.89 476.34 L346.58 476.11 L347.26 475.88 L347.95 475.65 L348.64 475.41 L349.32 475.18 L350.01 474.94 L350.70 474.70 L351.39 474.45 L352.07 474.21 L352.76 473.96 L353.45 473.71 L354.13 473.45 L354.82 473.19 L355.51 472.93 L356.19 472.66 L356.88 472.39 L357.57 472.12 L358.26 471.84 L358.94 471.55 L359.63 471.26 L360.32 470.95 L361.00 470.65 L361.69 470.33 L362.38 470.00 L363.06 469.66 L363.75 469.31 L364.44 468.94 L365.13 468.56 L365.81 468.16 L366.50 467.73 L367.19 467.19 L367.87 466.65 L368.56 466.11 L369.25 465.57 L369.94 465.04 L370.62 464.51 L371.31 463.98 L372.00 463.46 L372.68 462.95 L373.37 462.44 L374.06 461.94 L374.74 461.45 L375.43 460.95 L376.12 460.46 L376.81 459.95 L377.49 459.44 L378.18 458.93 L378.87 458.40 L379.55 457.88 L380.24 457.34 L380.93 456.79 L381.61 456.23 L382.30 455.64 L382.99 455.04 L383.68 454.39 L384.36 453.69 L385.05 452.97 L385.74 452.23 L386.42 451.51 L387.11 450.80 L387.80 450.13 L388.48 449.48 L389.17 448.84 L389.86 448.18 L390.55 447.52 L391.23 446.82 L391.92 446.08 L392.61 445.31 L393.29 444.50 L393.98 443.67 L394.67 442.81 L395.35 441.95 L396.04 441.09 L396.73 440.23 L397.41 439.37 L398.10 438.48 L398.79 437.56 L399.48 436.59 L400.16 435.55 L400.85 434.38 L401.54 433.11 L402.22 431.77 L402.91 430.39 L403.60 429.03 L404.28 427.71 L404.97 426.50 L405.66 425.27 L406.35 423.72 L407.03 422.02 L407.72 420.53 L408.41 419.11 L409.09 417.75 L409.78 416.43 L410.47 415.13 L411.15 413.84 L411.84 412.55 L412.53 411.29 L413.22 410.05 L413.90 408.82 L414.59 407.59 L415.28 406.35 L415.96 405.09 L416.65 403.81 L417.34 402.52 L418.02 401.23 L418.71 399.94 L419.40 398.65 L420.09 397.38 L420.77 396.14 L421.46 394.93 L422.15 393.72 L422.83 392.50 L423.52 391.22 L424.21 389.86 L424.89 388.38 L425.58 386.79 L426.27 385.15 L426.96 383.54 L427.64 382.00 L428.33 380.59 L429.02 379.24 L429.70 377.92 L430.39 376.65 L431.08 375.44 L431.76 374.29 L432.45 373.21 L433.14 372.19 L433.83 371.21 L434.51 370.28 L435.20 369.40 L435.89 368.58 L436.57 367.84 L437.26 367.16 L437.95 366.52 L438.63 365.92 L439.32 365.35 L440.01 364.80 L440.70 364.28 L441.38 363.77 L442.07 363.27 L442.76 362.79 L443.44 362.33 L444.13 361.89 L444.82 361.47 L445.50 361.08 L446.19 360.71 L446.88 360.35 L447.57 360.01 L448.25 359.68 L448.94 359.38 L451.69 358.31 L454.44 357.38 L457.18 356.54 L459.93 355.79 L462.68 355.12 L465.43 354.48 L468.18 353.89 L470.92 353.34 L473.67 352.84 L476.42 352.34 L479.17 351.86 L481.92 351.38 L484.66 350.90 L487.41 350.43 L490.16 349.97 L492.91 349.51 L495.66 349.06 L498.40 348.61 L501.15 348.17 L503.90 347.73" fill="none" stroke="#0000ff" stroke-width="1.75" stroke-linejoin="round"/>
<path d="M503.90 332.87 L501.15 333.35 L498.40 333.83 L495.66 334.33 L492.91 334.83 L490.16 335.35 L487.41 335.87 L484.66 336.40 L481.92 336.95 L479.17 337.50 L476.42 338.06 L473.67 338.63 L470.92 339.22 L468.18 339.81 L465.43 340.41 L462.68 341.03 L459.93 341.65 L457.18 342.29 L454.44 342.94 L451.69 343.60 L448.94 344.27 L448.25 344.44 L447.57 344.61 L446.88 344.78 L446.19 344.96 L445.50 345.13 L444.82 345.30 L444.13 345.48 L443.44 345.65 L442.76 345.83 L442.07 346.01 L441.38 346.18 L440.70 346.36 L440.01 346.54 L439.32 346.72 L438.63 346.90 L437.95 347.09 L437.26 347.27 L436.57 347.45 L435.89 347.64 L435.20 347.82 L434.51 348.01 L433.83 348.20 L433.14 348.38 L432.45 348.57 L431.76 348.76 L431.08 348.95 L430.39 349.15 L429.70 349.34 L429.02 349.53 L428.33 349.73 L427.64 349.92 L426.96 350.12 L426.27 350.32 L425.58 350.51 L424.89 350.71 L424.21 350.91 L423.52 351.11 L422.83 351.32 L422.15 351.52 L421.46 351.73 L420.77 351.93 L420.09 352.14 L419.40 352.34 L418.71 352.55 L418.02 352.76 L417.34 352.97 L416.65 353.19 L415.96 353.40 L415.28 353.61 L414.59 353.83 L413.90 354.05 L413.22 354.26 L412.53 354.48 L411.84 354.70 L411.15 354.93 L410.47 355.15 L409.78 355.37 L409.09 355.60 L408.41 355.83 L407.72 356.06 L407.03 356.29 L406.35 356.52 L405.66 356.75 L404.97 356.99 L404.28 357.23 L403.60 357.46 L402.91 357.70 L402.22 357.95 L401.54 358.19 L400.85 358.44 L400.16 358.69 L399.48 358.94 L398.79 359.19 L398.10 359.44 L397.41 359.70 L396.73 359.96 L396.04 360.22 L395.35 360.49 L394.67 360.75 L393.98 361.02 L393.29 361.30 L392.61 361.57 L391.92 361.85 L391.23 362.13 L390.55 362.42 L389.86 362.71 L389.17 363.00 L388.48 363.30 L387.80 363.60 L387.11 363.91 L386.42 364.22 L385.74 364.53 L385.05 364.85 L384.36 365.18 L383.68 365.51 L382.99 365.85 L382.30 366.19 L381.61 366.54 L380.93 366.90 L380.24 367.27 L379.55 367.64 L378.87 368.02 L378.18 368.41 L377.49 368.80 L376.81 369.21 L376.12 369.63 L375.43 370.06 L374.74 370.50 L374.06 370.95 L373.37 371.41 L372.68 371.89 L372.00 372.38 L371.31 372.89 L370.62 373.42 L369.94 373.96 L369.25 374.51 L368.56 375.09 L367.87 375.69 L367.19 376.31 L366.50 376.95 L365.81 377.68 L365.13 378.42 L364.44 379.16 L363.75 379.92 L363.06 380.69 L362.38 381.48 L361.69 382.27 L361.00 383.07 L360.32 383.89 L359.63 384.72 L358.94 385.56 L358.26 386.41 L357.57 387.27 L356.88 388.14 L356.19 389.03 L355.51 389.93 L354.82 390.83 L354.13 391.74 L353.45 392.67 L352.76 393.62 L352.07 394.59 L351.39 395.58 L350.70 396.58 L350.01 397.58 L349.32 398.57 L348.64 399.56 L347.95 400.57 L347.26 401.62 L346.58 402.71 L345.89 403.87 L345.20 405.12 L344.52 406.48 L343.83 407.92 L343.14 409.42 L342.45 410.96 L341.77 412.53 L341.08 414.12 L340.39 415.77 L339.71 417.49 L339.02 419.25 L338.33 421.04 L337.65 422.84 L336.96 424.64 L336.27 426.47 L335.59 428.36 L334.90 430.20 L334.21 431.91 L333.52 433.51 L332.84 435.06 L332.15 436.56 L331.46 438.02 L330.78 439.47 L330.09 440.90 L329.40 442.31 L328.72 443.68 L328.03 445.04 L327.34 446.38 L326.65 447.72 L325.97 449.06 L325.28 450.39 L324.59 451.71 L323.91 453.03 L323.22 454.34 L322.53 455.66 L321.85 457.00 L321.16 458.36 L320.47 459.75 L319.78 461.16 L319.10 462.59 L318.41 464.04 L317.72 465.50 L317.04 466.99 L316.35 468.50 L315.66 470.04 L314.98 471.66 L314.29 473.36 L313.60 475.10 L312.91 476.80 L312.23 478.42 L311.54 479.90 L310.85 481.27 L310.17 482.60 L309.48 483.87 L308.79 485.07 L308.11 486.20 L307.42 487.24 L306.73 488.19 L306.04 489.09 L305.36 489.93 L304.67 490.73 L303.98 491.49 L303.30 492.21 L302.61 492.88 L301.92 493.49 L301.24 494.07 L300.55 494.67 L299.86 495.27 L299.17 495.86 L298.49 496.43 L297.80 496.98 L297.11 497.48 L296.43 497.96 L295.74 498.43 L295.05 498.88 L294.37 499.31 L293.68 499.72 L292.99 500.12 L292.30 500.50 L291.62 500.86 L290.93 501.21 L290.24 501.55 L289.56 501.88 L288.87 502.21 L288.18 502.52 L287.50 502.83 L286.81 503.14 L286.12 503.43 L285.43 503.72 L284.75 504.01 L284.06 504.28 L281.31 505.33 L278.56 506.29 L275.82 507.19 L273.07 508.01 L270.32 508.76 L267.57 509.46 L264.82 510.14 L262.08 510.77 L259.33 511.36 L256.58 511.93 L253.83 512.49 L251.08 513.04 L248.34 513.59 L245.59 514.12 L242.84 514.64 L240.09 515.16 L237.34 515.66 L234.60 516.16 L231.85 516.64 L229.10 517.12 L229.10 517.12 L231.85 516.64 L234.60 516.16 L237.34 515.66 L240.09 515.16 L242.84 514.64 L245.59 514.12 L248.34 513.59 L251.08 513.04 L253.83 512.49 L256.58 511.93 L259.33 511.36 L262.08 510.77 L264.82 510.18 L267.57 509.58 L270.32 508.96 L273.07 508.34 L275.82 507.70 L278.56 507.05 L281.31 506.39 L284.06 505.72 L284.75 505.55 L285.43 505.38 L286.12 505.21 L286.81 505.03 L287.50 504.86 L288.18 504.69 L288.87 504.51 L289.56 504.34 L290.24 504.16 L290.93 503.98 L291.62 503.81 L292.30 503.63 L292.99 503.45 L293.68 503.27 L294.37 503.09 L295.05 502.90 L295.74 502.72 L296.43 502.54 L297.11 502.35 L297.80 502.17 L298.49 501.98 L299.17 501.79 L299.86 501.61 L300.55 501.42 L301.24 501.23 L301.92 501.04 L302.61 500.84 L303.30 500.65 L303.98 500.46 L304.67 500.26 L305.36 500.07 L306.04 499.87 L306.73 499.67 L307.42 499.48 L308.11 499.28 L308.79 499.08 L309.48 498.88 L310.17 498.67 L310.85 498.47 L311.54 498.26 L312.23 498.06 L312.91 497.85 L313.60 497.65 L314.29 497.44 L314.98 497.23 L315.66 497.02 L316.35 496.80 L317.04 496.59 L317.72 496.38 L318.41 496.16 L319.10 495.94 L319.78 495.73 L320.47 495.51 L321.16 495.29 L321.85 495.06 L322.53 494.84 L323.22 494.62 L323.91 494.39 L324.59 494.16 L325.28 493.93 L325.97 493.70 L326.65 493.47 L327.34 493.24 L328.03 493.00 L328.72 492.76 L329.40 492.53 L330.09 492.29 L330.78 492.04 L331.46 491.80 L332.15 491.55 L332.84 491.30 L333.52 491.05 L334.21 490.80 L334.90 490.55 L335.59 490.29 L336.27 490.03 L336.96 489.77 L337.65 489.50 L338.33 489.24 L339.02 488.97 L339.71 488.69 L340.39 488.42 L341.08 488.14 L341.77 487.86 L342.45 487.57 L343.14 487.28 L343.83 486.99 L344.52 486.69 L345.20 486.39 L345.89 486.08 L346.58 485.77 L347.26 485.46 L347.95 485.14 L348.64 484.81 L349.32 484.48 L350.01 484.14 L350.70 483.80 L351.39 483.45 L352.07 483.09 L352.76 482.72 L353.45 482.35 L354.13 481.97 L354.82 481.58 L355.51 481.19 L356.19 480.78 L356.88 480.36 L357.57 479.93 L358.26 479.49 L358.94 479.04 L359.63 478.58 L360.32 478.10 L361.00 477.61 L361.69 477.10 L362.38 476.57 L363.06 476.03 L363.75 475.48 L364.44 474.90 L365.13 474.30 L365.81 473.68 L366.50 473.04 L367.19 472.31 L367.87 471.57 L368.56 470.83 L369.25 470.07 L369.94 469.30 L370.62 468.51 L371.31 467.72 L372.00 466.92 L372.68 466.10 L373.37 465.27 L374.06 464.43 L374.74 463.58 L375.43 462.72 L376.12 461.85 L376.81 460.96 L377.49 460.06 L378.18 459.16 L378.87 458.25 L379.55 457.32 L380.24 456.37 L380.93 455.40 L381.61 454.41 L382.30 453.41 L382.99 452.41 L383.68 451.42 L384.36 450.43 L385.05 449.42 L385.74 448.37 L386.42 447.28 L387.11 446.12 L387.80 444.87 L388.48 443.51 L389.17 442.07 L389.86 440.57 L390.55 439.03 L391.23 437.46 L391.92 435.87 L392.61 434.22 L393.29 432.50 L393.98 430.74 L394.67 428.95 L395.35 427.15 L396.04 425.35 L396.73 423.52 L397.41 421.63 L398.10 419.79 L398.79 418.08 L399.48 416.48 L400.16 414.93 L400.85 413.43 L401.54 411.97 L402.22 410.52 L402.91 409.09 L403.60 407.68 L404.28 406.31 L404.97 404.95 L405.66 403.61 L406.35 402.27 L407.03 400.93 L407.72 399.60 L408.41 398.28 L409.09 396.96 L409.78 395.65 L410.47 394.33 L411.15 392.99 L411.84 391.63 L412.53 390.24 L413.22 388.83 L413.90 387.40 L414.59 385.95 L415.28 384.49 L415.96 383.00 L416.65 381.49 L417.34 379.95 L418.02 378.33 L418.71 376.63 L419.40 374.89 L420.09 373.19 L420.77 371.57 L421.46 370.09 L422.15 368.72 L422.83 367.39 L423.52 366.12 L424.21 364.92 L424.89 363.79 L425.58 362.75 L426.27 361.80 L426.96 360.90 L427.64 360.06 L428.33 359.26 L429.02 358.50 L429.70 357.78 L430.39 357.11 L431.08 356.50 L431.76 355.92 L432.45 355.32 L433.14 354.72 L433.83 354.13 L434.51 353.56 L435.20 353.01 L435.89 352.51 L436.57 352.03 L437.26 351.56 L437.95 351.11 L438.63 350.68 L439.32 350.27 L440.01 349.87 L440.70 349.49 L441.38 349.13 L442.07 348.78 L442.76 348.44 L443.44 348.11 L444.13 347.78 L444.82 347.47 L445.50 347.16 L446.19 346.85 L446.88 346.56 L447.57 346.27 L448.25 345.98 L448.94 345.71 L451.69 344.66 L454.44 343.70 L457.18 342.80 L459.93 341.98 L462.68 341.23 L465.43 340.53 L468.18 339.85 L470.92 339.22 L473.67 338.63 L476.42 338.06 L479.17 337.50 L481.92 336.95 L484.66 336.40 L487.41 335.87 L490.16 335.35 L492.91 334.83 L495.66 334.33 L498.40 333.83 L501.15 333.35 L503.90 332.87" fill="none" stroke="#008000" stroke-width="1.75" stroke-linejoin="round"/>
<path d="M503.90 313.23 L501.15 313.90 L498.40 314.58 L495.66 315.27 L492.91 315.95 L490.16 316.65 L487.41 317.34 L484.66 318.05 L481.92 318.76 L479.17 319.47 L476.42 320.19 L473.67 320.92 L470.92 321.66 L468.18 322.41 L465.43 323.16 L462.68 323.92 L459.93 324.70 L457.18 325.48 L454.44 326.28 L451.69 327.09 L448.94 327.91 L448.25 328.12 L447.57 328.32 L446.88 328.53 L446.19 328.74 L445.50 328.96 L444.82 329.17 L444.13 329.38 L443.44 329.59 L442.76 329.81 L442.07 330.03 L441.38 330.24 L440.70 330.46 L440.01 330.68 L439.32 330.90 L438.63 331.12 L437.95 331.35 L437.26 331.57 L436.57 331.79 L435.89 332.02 L435.20 332.25 L434.51 332.48 L433.83 332.71 L433.14 332.94 L432.45 333.17 L431.76 333.40 L431.08 333.64 L430.39 333.87 L429.70 334.11 L429.02 334.35 L428.33 334.59 L427.64 334.83 L426.96 335.08 L426.27 335.32 L425.58 335.57 L424.89 335.82 L424.21 336.06 L423.52 336.32 L422.83 336.57 L422.15 336.82 L421.46 337.08 L420.77 337.34 L420.09 337.60 L419.40 337.86 L418.71 338.12 L418.02 338.39 L417.34 338.65 L416.65 338.92 L415.96 339.19 L415.28 339.46 L414.59 339.74 L413.90 340.02 L413.22 340.29 L412.53 340.58 L411.84 340.86 L411.15 341.14 L410.47 341.43 L409.78 341.72 L409.09 342.01 L408.41 342.31 L407.72 342.60 L407.03 342.90 L406.35 343.21 L405.66 343.51 L404.97 343.82 L404.28 344.13 L403.60 344.44 L402.91 344.76 L402.22 345.07 L401.54 345.40 L400.85 345.72 L400.16 346.05 L399.48 346.38 L398.79 346.71 L398.10 347.05 L397.41 347.39 L396.73 347.74 L396.04 348.09 L395.35 348.44 L394.67 348.80 L393.98 349.16 L393.29 349.52 L392.61 349.89 L391.92 350.27 L391.23 350.65 L390.55 351.03 L389.86 351.42 L389.17 351.82 L388.48 352.22 L387.80 352.63 L387.11 353.04 L386.42 353.47 L385.74 353.90 L385.05 354.33 L384.36 354.78 L383.68 355.23 L382.99 355.70 L382.30 356.17 L381.61 356.66 L380.93 357.16 L380.24 357.67 L379.55 358.19 L378.87 358.73 L378.18 359.28 L377.49 359.85 L376.81 360.45 L376.12 361.06 L375.43 361.69 L374.74 362.35 L374.06 363.03 L373.37 363.74 L372.68 364.49 L372.00 365.27 L371.31 366.08 L370.62 366.94 L369.94 367.84 L369.25 368.80 L368.56 369.81 L367.87 370.87 L367.19 372.01 L366.50 373.22 L365.81 374.27 L365.13 375.35 L364.44 376.45 L363.75 377.57 L363.06 378.71 L362.38 379.87 L361.69 381.05 L361.00 382.25 L360.32 383.49 L359.63 384.78 L358.94 386.10 L358.26 387.43 L357.57 388.76 L356.88 390.06 L356.19 391.33 L355.51 392.52 L354.82 393.70 L354.13 394.90 L353.45 396.13 L352.76 397.36 L352.07 398.61 L351.39 399.86 L350.70 401.13 L350.01 402.40 L349.32 403.68 L348.64 404.97 L347.95 406.29 L347.26 407.62 L346.58 408.98 L345.89 410.36 L345.20 411.77 L344.52 413.18 L343.83 414.63 L343.14 416.13 L342.45 417.70 L341.77 419.37 L341.08 421.17 L340.39 423.21 L339.71 425.47 L339.02 428.14 L338.33 430.39 L337.65 432.37 L336.96 434.22 L336.27 435.96 L335.59 437.67 L334.90 439.39 L334.21 441.16 L333.52 442.93 L332.84 444.68 L332.15 446.42 L331.46 448.16 L330.78 449.90 L330.09 451.65 L329.40 453.42 L328.72 455.21 L328.03 456.99 L327.34 458.75 L326.65 460.48 L325.97 462.16 L325.28 463.76 L324.59 465.32 L323.91 466.90 L323.22 468.53 L322.53 470.25 L321.85 472.14 L321.16 474.14 L320.47 476.13 L319.78 478.01 L319.10 479.84 L318.41 481.65 L317.72 483.43 L317.04 485.16 L316.35 486.83 L315.66 488.45 L314.98 490.00 L314.29 491.51 L313.60 492.96 L312.91 494.39 L312.23 495.78 L311.54 497.16 L310.85 498.54 L310.17 499.90 L309.48 501.21 L308.79 502.42 L308.11 503.55 L307.42 504.63 L306.73 505.65 L306.04 506.60 L305.36 507.47 L304.67 508.30 L303.98 509.08 L303.30 509.84 L302.61 510.55 L301.92 511.24 L301.24 511.90 L300.55 512.55 L299.86 513.18 L299.17 513.79 L298.49 514.36 L297.80 514.90 L297.11 515.39 L296.43 515.85 L295.74 516.30 L295.05 516.72 L294.37 517.12 L293.68 517.51 L292.99 517.88 L292.30 518.24 L291.62 518.59 L290.93 518.92 L290.24 519.25 L289.56 519.57 L288.87 519.87 L288.18 520.16 L287.50 520.45 L286.81 520.73 L286.12 521.00 L285.43 521.26 L284.75 521.52 L284.06 521.77 L281.31 522.72 L278.56 523.64 L275.82 524.51 L273.07 525.29 L270.32 526.07 L267.57 526.83 L264.82 527.58 L262.08 528.33 L259.33 529.07 L256.58 529.80 L253.83 530.52 L251.08 531.23 L248.34 531.94 L245.59 532.65 L242.84 533.34 L240.09 534.04 L237.34 534.72 L234.60 535.41 L231.85 536.09 L229.10 536.76 L229.10 536.76 L231.85 536.09 L234.60 535.41 L237.34 534.72 L240.09 534.04 L242.84 533.34 L245.59 532.65 L248.34 531.94 L251.08 531.23 L253.83 530.52 L256.58 529.80 L259.33 529.07 L262.08 528.33 L264.82 527.58 L267.57 526.83 L270.32 526.07 L273.07 525.29 L275.82 524.51 L278.56 523.71 L281.31 522.90 L284.06 522.08 L284.75 521.87 L285.43 521.67 L286.12 521.46 L286.81 521.25 L287.50 521.03 L288.18 520.82 L288.87 520.61 L289.56 520.40 L290.24 520.18 L290.93 519.96 L291.62 519.75 L292.30 519.53 L292.99 519.31 L293.68 519.09 L294.37 518.87 L295.05 518.64 L295.74 518.42 L296.43 518.20 L297.11 517.97 L297.80 517.74 L298.49 517.51 L299.17 517.28 L299.86 517.05 L300.55 516.82 L301.24 516.59 L301.92 516.35 L302.61 516.12 L303.30 515.88 L303.98 515.64 L304.67 515.40 L305.36 515.16 L306.04 514.91 L306.73 514.67 L307.42 514.42 L308.11 514.17 L308.79 513.93 L309.48 513.67 L310.17 513.42 L310.85 513.17 L311.54 512.91 L312.23 512.65 L312.91 512.39 L313.60 512.13 L314.29 511.87 L314.98 511.60 L315.66 511.34 L316.35 511.07 L317.04 510.80 L317.72 510.53 L318.41 510.25 L319.10 509.97 L319.78 509.70 L320.47 509.41 L321.16 509.13 L321.85 508.85 L322.53 508.56 L323.22 508.27 L323.91 507.98 L324.59 507.68 L325.28 507.39 L325.97 507.09 L326.65 506.78 L327.34 506.48 L328.03 506.17 L328.72 505.86 L329.40 505.55 L330.09 505.23 L330.78 504.92 L331.46 504.59 L332.15 504.27 L332.84 503.94 L333.52 503.61 L334.21 503.28 L334.90 502.94 L335.59 502.60 L336.27 502.25 L336.96 501.90 L337.65 501.55 L338.33 501.19 L339.02 500.83 L339.71 500.47 L340.39 500.10 L341.08 499.72 L341.77 499.34 L342.45 498.96 L343.14 498.57 L343.83 498.17 L344.52 497.77 L345.20 497.36 L345.89 496.95 L346.58 496.52 L347.26 496.09 L347.95 495.66 L348.64 495.21 L349.32 494.76 L350.01 494.29 L350.70 493.82 L351.39 493.33 L352.07 492.83 L352.76 492.32 L353.45 491.80 L354.13 491.26 L354.82 490.71 L355.51 490.14 L356.19 489.54 L356.88 488.93 L357.57 488.30 L358.26 487.64 L358.94 486.96 L359.63 486.25 L360.32 485.50 L361.00 484.72 L361.69 483.91 L362.38 483.05 L363.06 482.15 L363.75 481.19 L364.44 480.18 L365.13 479.12 L365.81 477.98 L366.50 476.77 L367.19 475.72 L367.87 474.64 L368.56 473.54 L369.25 472.42 L369.94 471.28 L370.62 470.12 L371.31 468.94 L372.00 467.74 L372.68 466.50 L373.37 465.21 L374.06 463.89 L374.74 462.56 L375.43 461.23 L376.12 459.93 L376.81 458.66 L377.49 457.47 L378.18 456.29 L378.87 455.09 L379.55 453.86 L380.24 452.63 L380.93 451.38 L381.61 450.13 L382.30 448.86 L382.99 447.59 L383.68 446.31 L384.36 445.02 L385.05 443.70 L385.74 442.37 L386.42 441.01 L387.11 439.63 L387.80 438.22 L388.48 436.81 L389.17 435.36 L389.86 433.86 L390.55 432.29 L391.23 430.62 L391.92 428.82 L392.61 426.78 L393.29 424.52 L393.98 421.85 L394.67 419.60 L395.35 417.62 L396.04 415.77 L396.73 414.03 L397.41 412.32 L398.10 410.60 L398.79 408.83 L399.48 407.06 L400.16 405.31 L400.85 403.57 L401.54 401.83 L402.22 400.09 L402.91 398.34 L403.60 396.57 L404.28 394.78 L404.97 393.00 L405.66 391.24 L406.35 389.51 L407.03 387.83 L407.72 386.23 L408.41 384.67 L409.09 383.09 L409.78 381.46 L410.47 379.74 L411.15 377.85 L411.84 375.85 L412.53 373.86 L413.22 371.98 L413.90 370.15 L414.59 368.34 L415.28 366.56 L415.96 364.83 L416.65 363.16 L417.34 361.54 L418.02 359.99 L418.71 358.48 L419.40 357.03 L420.09 355.60 L420.77 354.21 L421.46 352.83 L422.15 351.45 L422.83 350.09 L423.52 348.78 L424.21 347.57 L424.89 346.44 L425.58 345.36 L426.27 344.34 L426.96 343.39 L427.64 342.52 L428.33 341.69 L429.02 340.91 L429.70 340.15 L430.39 339.44 L431.08 338.75 L431.76 338.09 L432.45 337.44 L433.14 336.81 L433.83 336.20 L434.51 335.63 L435.20 335.09 L435.89 334.60 L436.57 334.14 L437.26 333.69 L437.95 333.27 L438.63 332.87 L439.32 332.48 L440.01 332.11 L440.70 331.75 L441.38 331.40 L442.07 331.07 L442.76 330.74 L443.44 330.42 L444.13 330.12 L444.82 329.83 L445.50 329.54 L446.19 329.26 L446.88 328.99 L447.57 328.73 L448.25 328.47 L448.94 328.22 L451.69 327.27 L454.44 326.35 L457.18 325.48 L459.93 324.70 L462.68 323.92 L465.43 323.16 L468.18 322.41 L470.92 321.66 L473.67 320.92 L476.42 320.19 L479.17 319.47 L481.92 318.76 L484.66 318.05 L487.41 317.34 L490.16 316.65 L492.91 315.95 L495.66 315.27 L498.40 314.58 L501.15 313.90 L503.90 313.23" fill="none" stroke="#8000ff" stroke-width="1.75" stroke-linejoin="round"/>
<line x1="366.50" y1="309.80" x2="366.50" y2="539.95" stroke="#000" stroke-width="1.7"/>
<line x1="229.10" y1="425.00" x2="503.90" y2="425.00" stroke="#000" stroke-width="1.7"/>
<rect x="229.10" y="309.80" width="274.80" height="230.15" fill="none" stroke="#000" stroke-width="1.8"/>
<line x1="229.10" y1="539.95" x2="229.10" y2="534.45" stroke="#000" stroke-width="1.3"/>
<line x1="263.45" y1="539.95" x2="263.45" y2="536.95" stroke="#000" stroke-width="1.3"/>
<line x1="297.80" y1="539.95" x2="297.80" y2="534.45" stroke="#000" stroke-width="1.3"/>
<line x1="332.15" y1="539.95" x2="332.15" y2="536.95" stroke="#000" stroke-width="1.3"/>
<line x1="366.50" y1="539.95" x2="366.50" y2="534.45" stroke="#000" stroke-width="1.3"/>
<line x1="400.85" y1="539.95" x2="400.85" y2="536.95" stroke="#000" stroke-width="1.3"/>
<line x1="435.20" y1="539.95" x2="435.20" y2="534.45" stroke="#000" stroke-width="1.3"/>
<line x1="469.55" y1="539.95" x2="469.55" y2="536.95" stroke="#000" stroke-width="1.3"/>
<line x1="503.90" y1="539.95" x2="503.90" y2="534.45" stroke="#000" stroke-width="1.3"/>
<line x1="229.10" y1="539.95" x2="234.60" y2="539.95" stroke="#000" stroke-width="1.3"/>
<line x1="229.10" y1="511.18" x2="232.10" y2="511.18" stroke="#000" stroke-width="1.3"/>
<line x1="229.10" y1="482.41" x2="234.60" y2="482.41" stroke="#000" stroke-width="1.3"/>
<line x1="229.10" y1="453.64" x2="232.10" y2="453.64" stroke="#000" stroke-width="1.3"/>
<line x1="229.10" y1="424.88" x2="234.60" y2="424.88" stroke="#000" stroke-width="1.3"/>
<line x1="229.10" y1="396.11" x2="232.10" y2="396.11" stroke="#000" stroke-width="1.3"/>
<line x1="229.10" y1="367.34" x2="234.60" y2="367.34" stroke="#000" stroke-width="1.3"/>
<line x1="229.10" y1="338.57" x2="232.10" y2="338.57" stroke="#000" stroke-width="1.3"/>
<line x1="229.10" y1="309.80" x2="234.60" y2="309.80" stroke="#000" stroke-width="1.3"/>
<text x="229.10" y="558.95" text-anchor="middle" font-size="18.0">-50</text>
<text x="297.80" y="558.95" text-anchor="middle" font-size="18.0">-25</text>
<text x="366.50" y="558.95" text-anchor="middle" font-size="18.0">0</text>
<text x="435.20" y="558.95" text-anchor="middle" font-size="18.0">25</text>
<text x="503.90" y="558.95" text-anchor="middle" font-size="18.0">50</text>
<text x="223.90" y="545.55" text-anchor="end" font-size="18.0">-70</text>
<text x="223.90" y="488.01" text-anchor="end" font-size="18.0">-35</text>
<text x="223.90" y="430.48" text-anchor="end" font-size="18.0">0</text>
<text x="223.90" y="372.94" text-anchor="end" font-size="18.0">35</text>
<text x="223.90" y="315.40" text-anchor="end" font-size="18.0">70</text>
<text x="366.50" y="577.80" text-anchor="middle" font-size="19.3">H (kOe)</text>
<text transform="translate(195.00 420.88) rotate(-90)" text-anchor="middle" font-size="19.65">M (emu/g)</text>
<text x="238.00" y="329.00" font-size="16.3">(C)</text>
<text x="372.00" y="327.00" font-size="14.3">350 K</text>
<text x="482.10" y="333.90" font-size="16.8">(e)</text>
<text x="481.40" y="412.70" font-size="16.8">(a)</text>
<line x1="490.30" y1="399.50" x2="490.30" y2="357.30" stroke="#0000ff" stroke-width="1.6" stroke-dasharray="1.5 1.3"/>
<path d="M490.30 351.80 l-2.9 6 l5.8 0 z" fill="#0000ff"/>
<line x1="462.20" y1="454.20" x2="477.70" y2="454.20" stroke="#000000" stroke-width="1.6"/>
<text x="481.50" y="458.40" font-size="13.6">(a)</text>
<line x1="462.20" y1="471.61" x2="477.70" y2="471.61" stroke="#ff0000" stroke-width="1.6"/>
<text x="481.50" y="475.81" font-size="13.6">(b)</text>
<line x1="462.20" y1="489.02" x2="477.70" y2="489.02" stroke="#0000ff" stroke-width="1.6"/>
<text x="481.50" y="493.22" font-size="13.6">(c)</text>
<line x1="462.20" y1="506.43" x2="477.70" y2="506.43" stroke="#008000" stroke-width="1.6"/>
<text x="481.50" y="510.63" font-size="13.6">(d)</text>
<line x1="462.20" y1="523.84" x2="477.70" y2="523.84" stroke="#8000ff" stroke-width="1.6"/>
<text x="481.50" y="528.04" font-size="13.6">(e)</text></g>
</svg>
</body></html>
